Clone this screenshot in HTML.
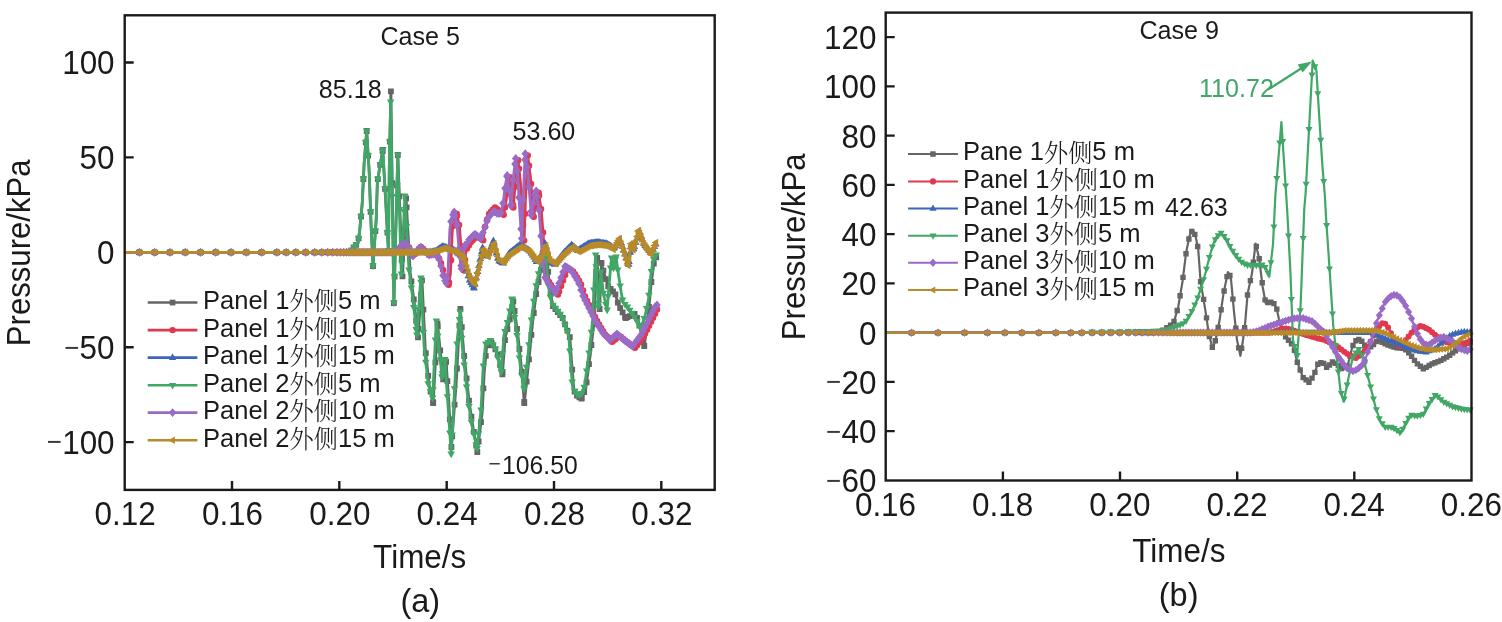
<!DOCTYPE html>
<html lang="zh"><head><meta charset="utf-8"><title>Pressure time histories</title>
<style>html,body{margin:0;padding:0;background:#fff}svg{display:block}</style></head>
<body>
<svg width="1502" height="622" viewBox="0 0 1502 622" font-family='"Liberation Sans","Noto Serif CJK SC",sans-serif' fill="#1a1a1a">
<rect width="1502" height="622" fill="#fff"/>
<defs><clipPath id="cl"><rect x="124.7" y="15.3" width="590" height="474.6"/></clipPath><clipPath id="cr"><rect x="885.7" y="12.6" width="590.3" height="467.9"/></clipPath></defs>
<path d="M232 489.9v-9M339.3 489.9v-9M446.7 489.9v-9M554 489.9v-9M661.3 489.9v-9M124.7 62.5h9M124.7 157.4h9M124.7 252.3h9M124.7 347.2h9M124.7 442.1h9" stroke="#1a1a1a" stroke-width="2.4" fill="none"/>
<path d="M1002.9 480.5v-9M1120 480.5v-9M1237.2 480.5v-9M1354.3 480.5v-9M885.7 37.1h9M885.7 86.4h9M885.7 135.6h9M885.7 184.9h9M885.7 234.1h9M885.7 283.4h9M885.7 332.6h9M885.7 381.9h9M885.7 431.1h9" stroke="#1a1a1a" stroke-width="2.4" fill="none"/>
<g clip-path="url(#cl)">
<path d="M124.7 252.3L350 252.3L353.3 248L358 242.8L359.7 230.4L362.3 202.5L364.1 164L366.7 131L369.2 172L371.1 226L373 266L376.2 219.5L377.4 181.5L380 166L382.8 150L385.4 196L388.4 251L389.4 160L390.9 91.4L393.9 303L397.8 155L402.5 276.4L406.1 198.4L410.2 272.4L414.2 302.4L418 337.4L422 280.4L425.2 347.4L429.2 385.4L433.2 403L437.5 323.4L440.2 350.4L443.2 379.4L446.1 361.9L448.7 400.4L451.4 447L456.2 383.4L458.4 342.4L460.4 309L463.6 350.4L469.2 402.4L473.2 428.4L477.3 452L482.2 412.4L484.2 372.4L486.7 346.4L491.6 342.9L497.2 352.4L502.4 374.4L505.2 337.4L509.2 322.4L513.3 301.4L518.1 336.9L521.7 370.4L524.3 403L529.2 357.4L532.6 322.4L536.2 294L541 269.9L547 254.2L549.2 286.4L553 306.1L562.7 318.1L569.9 337.4L571.7 363.4L573.9 390.4L577.2 395.9L581.5 398.5L585.8 388.4L588.7 366.4L590.4 353.7L594 322.4L595.2 286.4L597.2 258L599.6 309L601.5 263L604.5 275L608 286L611.5 290L615 293L618.5 305L625.7 318L630 316L635.4 313.5L638.5 322L644.3 346L648 318L651 285L654 262L656.8 256" fill="none" stroke="#656565" stroke-width="2.8" stroke-linejoin="round"/>
<path d="M136.5 249.4h5.8v5.8h-5.8zM151.8 249.4h5.8v5.8h-5.8zM167 249.4h5.8v5.8h-5.8zM182.3 249.4h5.8v5.8h-5.8zM197.6 249.4h5.8v5.8h-5.8zM212.8 249.4h5.8v5.8h-5.8zM228.1 249.4h5.8v5.8h-5.8zM243.4 249.4h5.8v5.8h-5.8zM258.7 249.4h5.8v5.8h-5.8zM273.9 249.4h5.8v5.8h-5.8zM283.3 249.4h5.8v5.8h-5.8zM292.9 249.4h5.8v5.8h-5.8zM302.8 249.4h5.8v5.8h-5.8zM311.8 249.4h5.8v5.8h-5.8zM318.8 249.4h5.8v5.8h-5.8zM324.8 249.4h5.8v5.8h-5.8zM329.8 249.4h5.8v5.8h-5.8zM334.1 249.4h5.8v5.8h-5.8zM337.7 249.4h5.8v5.8h-5.8zM340.9 249.4h5.8v5.8h-5.8zM343.7 249.4h5.8v5.8h-5.8zM346.1 249.4h5.8v5.8h-5.8zM348.5 247.6h5.8v5.8h-5.8zM350.9 244.6h5.8v5.8h-5.8zM353.3 241.9h5.8v5.8h-5.8zM355.7 235.5h5.8v5.8h-5.8zM358.1 213.6h5.8v5.8h-5.8zM360.5 176.1h5.8v5.8h-5.8zM362.9 139.5h5.8v5.8h-5.8zM363.8 128.1h5.8v5.8h-5.8zM365.3 152.7h5.8v5.8h-5.8zM367.7 208.9h5.8v5.8h-5.8zM370.1 263.1h5.8v5.8h-5.8zM370.1 263.1h5.8v5.8h-5.8zM372.5 228.2h5.8v5.8h-5.8zM374.9 176.2h5.8v5.8h-5.8zM377.3 162h5.8v5.8h-5.8zM379.7 148.3h5.8v5.8h-5.8zM379.9 147.1h5.8v5.8h-5.8zM382.1 186h5.8v5.8h-5.8zM384.5 229.8h5.8v5.8h-5.8zM385.5 248.1h5.8v5.8h-5.8zM386.9 138.8h5.8v5.8h-5.8zM388 88.5h5.8v5.8h-5.8zM389.3 180.2h5.8v5.8h-5.8zM391 300.1h5.8v5.8h-5.8zM391.7 273.6h5.8v5.8h-5.8zM394.1 182.5h5.8v5.8h-5.8zM394.9 152.1h5.8v5.8h-5.8zM396.5 193.5h5.8v5.8h-5.8zM398.9 255.4h5.8v5.8h-5.8zM399.6 273.5h5.8v5.8h-5.8zM401.3 236.7h5.8v5.8h-5.8zM403.2 195.5h5.8v5.8h-5.8zM403.7 204.5h5.8v5.8h-5.8zM406.1 247.9h5.8v5.8h-5.8zM408.5 278.5h5.8v5.8h-5.8zM410.9 296.5h5.8v5.8h-5.8zM413.3 317.9h5.8v5.8h-5.8zM415.1 334.5h5.8v5.8h-5.8zM415.7 326h5.8v5.8h-5.8zM418.1 291.8h5.8v5.8h-5.8zM419.1 277.5h5.8v5.8h-5.8zM420.5 306.8h5.8v5.8h-5.8zM422.9 350.2h5.8v5.8h-5.8zM425.3 373h5.8v5.8h-5.8zM427.7 388.7h5.8v5.8h-5.8zM430.1 399.2h5.8v5.8h-5.8zM430.3 400.1h5.8v5.8h-5.8zM432.5 359.4h5.8v5.8h-5.8zM434.6 320.5h5.8v5.8h-5.8zM434.9 323.5h5.8v5.8h-5.8zM437.3 347.5h5.8v5.8h-5.8zM439.7 370.7h5.8v5.8h-5.8zM440.3 376.5h5.8v5.8h-5.8zM442.1 365.7h5.8v5.8h-5.8zM443.2 359h5.8v5.8h-5.8zM444.5 378.3h5.8v5.8h-5.8zM446.9 416.5h5.8v5.8h-5.8zM448.5 444.1h5.8v5.8h-5.8zM449.3 433.5h5.8v5.8h-5.8zM451.7 401.7h5.8v5.8h-5.8zM454.1 365.6h5.8v5.8h-5.8zM456.5 322.8h5.8v5.8h-5.8zM457.5 306.1h5.8v5.8h-5.8zM458.9 324.2h5.8v5.8h-5.8zM461.3 353.1h5.8v5.8h-5.8zM463.7 375.4h5.8v5.8h-5.8zM466.1 397.7h5.8v5.8h-5.8zM468.5 413.8h5.8v5.8h-5.8zM470.9 429h5.8v5.8h-5.8zM473.3 442.8h5.8v5.8h-5.8zM474.4 449.1h5.8v5.8h-5.8zM475.7 438.6h5.8v5.8h-5.8zM478.1 419.2h5.8v5.8h-5.8zM480.5 385.5h5.8v5.8h-5.8zM482.9 352.9h5.8v5.8h-5.8zM485.3 342.5h5.8v5.8h-5.8zM487.7 340.7h5.8v5.8h-5.8zM488.7 340h5.8v5.8h-5.8zM490.1 342.4h5.8v5.8h-5.8zM492.5 346.5h5.8v5.8h-5.8zM494.9 352.1h5.8v5.8h-5.8zM497.3 362.2h5.8v5.8h-5.8zM499.5 371.5h5.8v5.8h-5.8zM499.7 368.9h5.8v5.8h-5.8zM502.1 337.2h5.8v5.8h-5.8zM504.5 326.3h5.8v5.8h-5.8zM506.9 316.5h5.8v5.8h-5.8zM509.3 304.2h5.8v5.8h-5.8zM510.4 298.5h5.8v5.8h-5.8zM511.7 308.1h5.8v5.8h-5.8zM514.1 325.9h5.8v5.8h-5.8zM516.5 346.1h5.8v5.8h-5.8zM518.9 368.8h5.8v5.8h-5.8zM521.3 398.9h5.8v5.8h-5.8zM521.4 400.1h5.8v5.8h-5.8zM523.7 378.7h5.8v5.8h-5.8zM526.1 356.4h5.8v5.8h-5.8zM528.5 331.9h5.8v5.8h-5.8zM530.9 310.1h5.8v5.8h-5.8zM533.3 291.1h5.8v5.8h-5.8zM535.7 279.1h5.8v5.8h-5.8zM538.1 267h5.8v5.8h-5.8zM540.5 260.7h5.8v5.8h-5.8zM542.9 254.5h5.8v5.8h-5.8zM544.1 251.3h5.8v5.8h-5.8zM545.3 268.9h5.8v5.8h-5.8zM547.7 290.8h5.8v5.8h-5.8zM550.1 303.2h5.8v5.8h-5.8zM552.5 306.2h5.8v5.8h-5.8zM554.9 309.2h5.8v5.8h-5.8zM557.3 312.1h5.8v5.8h-5.8zM559.7 315.1h5.8v5.8h-5.8zM562.1 321.4h5.8v5.8h-5.8zM564.5 327.8h5.8v5.8h-5.8zM566.9 334.3h5.8v5.8h-5.8zM569.3 366.7h5.8v5.8h-5.8zM571.7 388.7h5.8v5.8h-5.8zM574.1 392.7h5.8v5.8h-5.8zM576.5 394.4h5.8v5.8h-5.8zM578.6 395.6h5.8v5.8h-5.8zM578.9 394.9h5.8v5.8h-5.8zM581.3 389.3h5.8v5.8h-5.8zM583.7 379.5h5.8v5.8h-5.8zM586.1 361.3h5.8v5.8h-5.8zM588.5 342.1h5.8v5.8h-5.8zM590.9 321.3h5.8v5.8h-5.8zM593.3 269.3h5.8v5.8h-5.8zM594.3 255.1h5.8v5.8h-5.8zM595.7 284.9h5.8v5.8h-5.8zM596.7 306.1h5.8v5.8h-5.8zM598.1 272.2h5.8v5.8h-5.8zM598.6 260.1h5.8v5.8h-5.8zM600.5 267.7h5.8v5.8h-5.8zM602.9 276.2h5.8v5.8h-5.8zM605.3 283.4h5.8v5.8h-5.8zM607.7 286.1h5.8v5.8h-5.8zM610.1 288.4h5.8v5.8h-5.8zM612.5 291.5h5.8v5.8h-5.8zM614.9 299.7h5.8v5.8h-5.8zM617.3 305.2h5.8v5.8h-5.8zM619.7 309.5h5.8v5.8h-5.8zM622.1 313.9h5.8v5.8h-5.8zM622.8 315.1h5.8v5.8h-5.8zM624.5 314.3h5.8v5.8h-5.8zM626.9 313.2h5.8v5.8h-5.8zM629.3 312.1h5.8v5.8h-5.8zM631.7 311h5.8v5.8h-5.8zM634.1 315h5.8v5.8h-5.8zM636.5 322.8h5.8v5.8h-5.8zM638.9 332.8h5.8v5.8h-5.8zM641.3 342.7h5.8v5.8h-5.8zM641.4 343.1h5.8v5.8h-5.8zM643.7 325.7h5.8v5.8h-5.8zM646.1 304.1h5.8v5.8h-5.8zM648.5 279.1h5.8v5.8h-5.8zM650.9 260.7h5.8v5.8h-5.8zM653.3 254.4h5.8v5.8h-5.8z" fill="#656565"/>
<path d="M124.7 252.3L394.3 252.3L397.2 251L400.3 247L404.8 242.5L409.3 248L413.3 256L416.8 252L420.5 246.5L424.3 250L428.8 255L433.3 254L436.3 254L440 260L445.7 278.8L448.6 284.8L450.4 273.8L452.3 230.8L453.9 219.8L456.6 213.8L459.4 226.8L461.9 256.8L463.8 270.3L466.2 249.8L471.1 241.8L477.1 235.8L483.1 240.3L485.2 225.3L488.8 214.3L494.8 207.3L498.8 210.3L503.6 214.8L506 201.8L507.8 186.8L509.6 177.2L511.4 191.8L513.3 207.4L515.4 181.8L518.1 160.3L520.4 181.8L522.4 216.8L524.1 240.4L525.4 201.8L527.7 155.5L530.4 176.8L533.7 216.8L535.9 201.8L538.6 192.8L541.4 211.8L543.4 237.8L544.6 256.8L547 278.8L551.8 286.2L557.9 294.6L562.7 281.4L567.5 268.1L573.5 271.8L580.8 283.8L585.6 298.3L591.6 310.3L597.7 322.4L604.9 334.4L612.1 341.8L619.4 335.8L626.6 341.8L635 347.8L643.4 336.8L650.7 322.4L658.4 306.8" fill="none" stroke="#e0384d" stroke-width="2.8" stroke-linejoin="round"/>
<path d="M136.1 252.3a3.2 3.2 0 1 0 6.5 0a3.2 3.2 0 1 0 -6.5 0zM151.4 252.3a3.2 3.2 0 1 0 6.5 0a3.2 3.2 0 1 0 -6.5 0zM166.7 252.3a3.2 3.2 0 1 0 6.5 0a3.2 3.2 0 1 0 -6.5 0zM181.9 252.3a3.2 3.2 0 1 0 6.5 0a3.2 3.2 0 1 0 -6.5 0zM197.2 252.3a3.2 3.2 0 1 0 6.5 0a3.2 3.2 0 1 0 -6.5 0zM212.5 252.3a3.2 3.2 0 1 0 6.5 0a3.2 3.2 0 1 0 -6.5 0zM227.8 252.3a3.2 3.2 0 1 0 6.5 0a3.2 3.2 0 1 0 -6.5 0zM243 252.3a3.2 3.2 0 1 0 6.5 0a3.2 3.2 0 1 0 -6.5 0zM258.3 252.3a3.2 3.2 0 1 0 6.5 0a3.2 3.2 0 1 0 -6.5 0zM273.6 252.3a3.2 3.2 0 1 0 6.5 0a3.2 3.2 0 1 0 -6.5 0zM283 252.3a3.2 3.2 0 1 0 6.5 0a3.2 3.2 0 1 0 -6.5 0zM292.6 252.3a3.2 3.2 0 1 0 6.5 0a3.2 3.2 0 1 0 -6.5 0zM302.5 252.3a3.2 3.2 0 1 0 6.5 0a3.2 3.2 0 1 0 -6.5 0zM311.5 252.3a3.2 3.2 0 1 0 6.5 0a3.2 3.2 0 1 0 -6.5 0zM318.5 252.3a3.2 3.2 0 1 0 6.5 0a3.2 3.2 0 1 0 -6.5 0zM324.5 252.3a3.2 3.2 0 1 0 6.5 0a3.2 3.2 0 1 0 -6.5 0zM329.5 252.3a3.2 3.2 0 1 0 6.5 0a3.2 3.2 0 1 0 -6.5 0zM333.8 252.3a3.2 3.2 0 1 0 6.5 0a3.2 3.2 0 1 0 -6.5 0zM337.4 252.3a3.2 3.2 0 1 0 6.5 0a3.2 3.2 0 1 0 -6.5 0zM340.6 252.3a3.2 3.2 0 1 0 6.5 0a3.2 3.2 0 1 0 -6.5 0zM343.4 252.3a3.2 3.2 0 1 0 6.5 0a3.2 3.2 0 1 0 -6.5 0zM345.8 252.3a3.2 3.2 0 1 0 6.5 0a3.2 3.2 0 1 0 -6.5 0zM347.8 252.3a3.2 3.2 0 1 0 6.5 0a3.2 3.2 0 1 0 -6.5 0zM349.8 252.3a3.2 3.2 0 1 0 6.5 0a3.2 3.2 0 1 0 -6.5 0zM351.8 252.3a3.2 3.2 0 1 0 6.5 0a3.2 3.2 0 1 0 -6.5 0zM353.8 252.3a3.2 3.2 0 1 0 6.5 0a3.2 3.2 0 1 0 -6.5 0zM355.8 252.3a3.2 3.2 0 1 0 6.5 0a3.2 3.2 0 1 0 -6.5 0zM357.8 252.3a3.2 3.2 0 1 0 6.5 0a3.2 3.2 0 1 0 -6.5 0zM359.8 252.3a3.2 3.2 0 1 0 6.5 0a3.2 3.2 0 1 0 -6.5 0zM361.8 252.3a3.2 3.2 0 1 0 6.5 0a3.2 3.2 0 1 0 -6.5 0zM363.8 252.3a3.2 3.2 0 1 0 6.5 0a3.2 3.2 0 1 0 -6.5 0zM365.8 252.3a3.2 3.2 0 1 0 6.5 0a3.2 3.2 0 1 0 -6.5 0zM367.8 252.3a3.2 3.2 0 1 0 6.5 0a3.2 3.2 0 1 0 -6.5 0zM369.8 252.3a3.2 3.2 0 1 0 6.5 0a3.2 3.2 0 1 0 -6.5 0zM371.8 252.3a3.2 3.2 0 1 0 6.5 0a3.2 3.2 0 1 0 -6.5 0zM373.8 252.3a3.2 3.2 0 1 0 6.5 0a3.2 3.2 0 1 0 -6.5 0zM375.8 252.3a3.2 3.2 0 1 0 6.5 0a3.2 3.2 0 1 0 -6.5 0zM377.8 252.3a3.2 3.2 0 1 0 6.5 0a3.2 3.2 0 1 0 -6.5 0zM379.8 252.3a3.2 3.2 0 1 0 6.5 0a3.2 3.2 0 1 0 -6.5 0zM381.8 252.3a3.2 3.2 0 1 0 6.5 0a3.2 3.2 0 1 0 -6.5 0zM383.8 252.3a3.2 3.2 0 1 0 6.5 0a3.2 3.2 0 1 0 -6.5 0zM385.8 252.3a3.2 3.2 0 1 0 6.5 0a3.2 3.2 0 1 0 -6.5 0zM387.8 252.3a3.2 3.2 0 1 0 6.5 0a3.2 3.2 0 1 0 -6.5 0zM389.8 252.3a3.2 3.2 0 1 0 6.5 0a3.2 3.2 0 1 0 -6.5 0zM391.8 252a3.2 3.2 0 1 0 6.5 0a3.2 3.2 0 1 0 -6.5 0zM393.8 251.1a3.2 3.2 0 1 0 6.5 0a3.2 3.2 0 1 0 -6.5 0zM395.8 248.7a3.2 3.2 0 1 0 6.5 0a3.2 3.2 0 1 0 -6.5 0zM397.8 246.3a3.2 3.2 0 1 0 6.5 0a3.2 3.2 0 1 0 -6.5 0zM399.8 244.3a3.2 3.2 0 1 0 6.5 0a3.2 3.2 0 1 0 -6.5 0zM401.8 242.7a3.2 3.2 0 1 0 6.5 0a3.2 3.2 0 1 0 -6.5 0zM403.8 245.2a3.2 3.2 0 1 0 6.5 0a3.2 3.2 0 1 0 -6.5 0zM405.8 247.6a3.2 3.2 0 1 0 6.5 0a3.2 3.2 0 1 0 -6.5 0zM407.8 251.4a3.2 3.2 0 1 0 6.5 0a3.2 3.2 0 1 0 -6.5 0zM409.8 255.4a3.2 3.2 0 1 0 6.5 0a3.2 3.2 0 1 0 -6.5 0zM411.8 254.1a3.2 3.2 0 1 0 6.5 0a3.2 3.2 0 1 0 -6.5 0zM413.8 251.7a3.2 3.2 0 1 0 6.5 0a3.2 3.2 0 1 0 -6.5 0zM415.8 248.7a3.2 3.2 0 1 0 6.5 0a3.2 3.2 0 1 0 -6.5 0zM417.8 247a3.2 3.2 0 1 0 6.5 0a3.2 3.2 0 1 0 -6.5 0zM419.8 248.8a3.2 3.2 0 1 0 6.5 0a3.2 3.2 0 1 0 -6.5 0zM421.8 250.8a3.2 3.2 0 1 0 6.5 0a3.2 3.2 0 1 0 -6.5 0zM423.8 253a3.2 3.2 0 1 0 6.5 0a3.2 3.2 0 1 0 -6.5 0zM425.8 255a3.2 3.2 0 1 0 6.5 0a3.2 3.2 0 1 0 -6.5 0zM427.8 254.5a3.2 3.2 0 1 0 6.5 0a3.2 3.2 0 1 0 -6.5 0zM429.8 254.1a3.2 3.2 0 1 0 6.5 0a3.2 3.2 0 1 0 -6.5 0zM431.8 254a3.2 3.2 0 1 0 6.5 0a3.2 3.2 0 1 0 -6.5 0zM433.8 255.1a3.2 3.2 0 1 0 6.5 0a3.2 3.2 0 1 0 -6.5 0zM435.8 258.4a3.2 3.2 0 1 0 6.5 0a3.2 3.2 0 1 0 -6.5 0zM437.8 263.3a3.2 3.2 0 1 0 6.5 0a3.2 3.2 0 1 0 -6.5 0zM439.8 269.9a3.2 3.2 0 1 0 6.5 0a3.2 3.2 0 1 0 -6.5 0zM441.8 276.5a3.2 3.2 0 1 0 6.5 0a3.2 3.2 0 1 0 -6.5 0zM443.8 281.5a3.2 3.2 0 1 0 6.5 0a3.2 3.2 0 1 0 -6.5 0zM445.4 284.8a3.2 3.2 0 1 0 6.5 0a3.2 3.2 0 1 0 -6.5 0zM445.8 282.4a3.2 3.2 0 1 0 6.5 0a3.2 3.2 0 1 0 -6.5 0zM447.8 260.2a3.2 3.2 0 1 0 6.5 0a3.2 3.2 0 1 0 -6.5 0zM449.8 226a3.2 3.2 0 1 0 6.5 0a3.2 3.2 0 1 0 -6.5 0zM451.8 217.4a3.2 3.2 0 1 0 6.5 0a3.2 3.2 0 1 0 -6.5 0zM453.4 213.8a3.2 3.2 0 1 0 6.5 0a3.2 3.2 0 1 0 -6.5 0zM453.8 215.7a3.2 3.2 0 1 0 6.5 0a3.2 3.2 0 1 0 -6.5 0zM455.8 224.9a3.2 3.2 0 1 0 6.5 0a3.2 3.2 0 1 0 -6.5 0zM457.8 246a3.2 3.2 0 1 0 6.5 0a3.2 3.2 0 1 0 -6.5 0zM459.8 264.6a3.2 3.2 0 1 0 6.5 0a3.2 3.2 0 1 0 -6.5 0zM460.6 270.3a3.2 3.2 0 1 0 6.5 0a3.2 3.2 0 1 0 -6.5 0zM461.8 260a3.2 3.2 0 1 0 6.5 0a3.2 3.2 0 1 0 -6.5 0zM463.8 248.5a3.2 3.2 0 1 0 6.5 0a3.2 3.2 0 1 0 -6.5 0zM465.8 245.2a3.2 3.2 0 1 0 6.5 0a3.2 3.2 0 1 0 -6.5 0zM467.8 242a3.2 3.2 0 1 0 6.5 0a3.2 3.2 0 1 0 -6.5 0zM469.8 239.9a3.2 3.2 0 1 0 6.5 0a3.2 3.2 0 1 0 -6.5 0zM471.8 237.9a3.2 3.2 0 1 0 6.5 0a3.2 3.2 0 1 0 -6.5 0zM473.8 235.9a3.2 3.2 0 1 0 6.5 0a3.2 3.2 0 1 0 -6.5 0zM475.8 237.2a3.2 3.2 0 1 0 6.5 0a3.2 3.2 0 1 0 -6.5 0zM477.8 238.7a3.2 3.2 0 1 0 6.5 0a3.2 3.2 0 1 0 -6.5 0zM479.8 240.2a3.2 3.2 0 1 0 6.5 0a3.2 3.2 0 1 0 -6.5 0zM479.9 240.3a3.2 3.2 0 1 0 6.5 0a3.2 3.2 0 1 0 -6.5 0zM481.8 226.7a3.2 3.2 0 1 0 6.5 0a3.2 3.2 0 1 0 -6.5 0zM483.8 219.8a3.2 3.2 0 1 0 6.5 0a3.2 3.2 0 1 0 -6.5 0zM485.8 214.1a3.2 3.2 0 1 0 6.5 0a3.2 3.2 0 1 0 -6.5 0zM487.8 211.7a3.2 3.2 0 1 0 6.5 0a3.2 3.2 0 1 0 -6.5 0zM489.8 209.4a3.2 3.2 0 1 0 6.5 0a3.2 3.2 0 1 0 -6.5 0zM491.8 207.5a3.2 3.2 0 1 0 6.5 0a3.2 3.2 0 1 0 -6.5 0zM493.8 209a3.2 3.2 0 1 0 6.5 0a3.2 3.2 0 1 0 -6.5 0zM495.8 210.5a3.2 3.2 0 1 0 6.5 0a3.2 3.2 0 1 0 -6.5 0zM497.8 212.4a3.2 3.2 0 1 0 6.5 0a3.2 3.2 0 1 0 -6.5 0zM499.8 214.2a3.2 3.2 0 1 0 6.5 0a3.2 3.2 0 1 0 -6.5 0zM500.4 214.8a3.2 3.2 0 1 0 6.5 0a3.2 3.2 0 1 0 -6.5 0zM501.8 207.2a3.2 3.2 0 1 0 6.5 0a3.2 3.2 0 1 0 -6.5 0zM503.8 193.5a3.2 3.2 0 1 0 6.5 0a3.2 3.2 0 1 0 -6.5 0zM505.8 180.4a3.2 3.2 0 1 0 6.5 0a3.2 3.2 0 1 0 -6.5 0zM506.4 177.2a3.2 3.2 0 1 0 6.5 0a3.2 3.2 0 1 0 -6.5 0zM507.8 188.6a3.2 3.2 0 1 0 6.5 0a3.2 3.2 0 1 0 -6.5 0zM509.8 204.9a3.2 3.2 0 1 0 6.5 0a3.2 3.2 0 1 0 -6.5 0zM510.1 207.4a3.2 3.2 0 1 0 6.5 0a3.2 3.2 0 1 0 -6.5 0zM511.8 186.7a3.2 3.2 0 1 0 6.5 0a3.2 3.2 0 1 0 -6.5 0zM513.8 169.1a3.2 3.2 0 1 0 6.5 0a3.2 3.2 0 1 0 -6.5 0zM514.9 160.3a3.2 3.2 0 1 0 6.5 0a3.2 3.2 0 1 0 -6.5 0zM515.8 168.7a3.2 3.2 0 1 0 6.5 0a3.2 3.2 0 1 0 -6.5 0zM517.8 192.3a3.2 3.2 0 1 0 6.5 0a3.2 3.2 0 1 0 -6.5 0zM519.8 225.1a3.2 3.2 0 1 0 6.5 0a3.2 3.2 0 1 0 -6.5 0zM520.9 240.4a3.2 3.2 0 1 0 6.5 0a3.2 3.2 0 1 0 -6.5 0zM521.8 213.7a3.2 3.2 0 1 0 6.5 0a3.2 3.2 0 1 0 -6.5 0zM523.8 169.6a3.2 3.2 0 1 0 6.5 0a3.2 3.2 0 1 0 -6.5 0zM524.5 155.5a3.2 3.2 0 1 0 6.5 0a3.2 3.2 0 1 0 -6.5 0zM525.8 165.8a3.2 3.2 0 1 0 6.5 0a3.2 3.2 0 1 0 -6.5 0zM527.8 184.1a3.2 3.2 0 1 0 6.5 0a3.2 3.2 0 1 0 -6.5 0zM529.8 208.3a3.2 3.2 0 1 0 6.5 0a3.2 3.2 0 1 0 -6.5 0zM530.5 216.8a3.2 3.2 0 1 0 6.5 0a3.2 3.2 0 1 0 -6.5 0zM531.8 207.9a3.2 3.2 0 1 0 6.5 0a3.2 3.2 0 1 0 -6.5 0zM533.8 198.1a3.2 3.2 0 1 0 6.5 0a3.2 3.2 0 1 0 -6.5 0zM535.4 192.8a3.2 3.2 0 1 0 6.5 0a3.2 3.2 0 1 0 -6.5 0zM535.8 195.5a3.2 3.2 0 1 0 6.5 0a3.2 3.2 0 1 0 -6.5 0zM537.8 209.1a3.2 3.2 0 1 0 6.5 0a3.2 3.2 0 1 0 -6.5 0zM539.8 232.6a3.2 3.2 0 1 0 6.5 0a3.2 3.2 0 1 0 -6.5 0zM541.8 260.5a3.2 3.2 0 1 0 6.5 0a3.2 3.2 0 1 0 -6.5 0zM543.8 278.8a3.2 3.2 0 1 0 6.5 0a3.2 3.2 0 1 0 -6.5 0zM545.8 281.9a3.2 3.2 0 1 0 6.5 0a3.2 3.2 0 1 0 -6.5 0zM547.8 285a3.2 3.2 0 1 0 6.5 0a3.2 3.2 0 1 0 -6.5 0zM549.8 287.9a3.2 3.2 0 1 0 6.5 0a3.2 3.2 0 1 0 -6.5 0zM551.8 290.6a3.2 3.2 0 1 0 6.5 0a3.2 3.2 0 1 0 -6.5 0zM553.8 293.4a3.2 3.2 0 1 0 6.5 0a3.2 3.2 0 1 0 -6.5 0zM554.7 294.6a3.2 3.2 0 1 0 6.5 0a3.2 3.2 0 1 0 -6.5 0zM555.8 291.6a3.2 3.2 0 1 0 6.5 0a3.2 3.2 0 1 0 -6.5 0zM557.8 286.1a3.2 3.2 0 1 0 6.5 0a3.2 3.2 0 1 0 -6.5 0zM559.8 280.6a3.2 3.2 0 1 0 6.5 0a3.2 3.2 0 1 0 -6.5 0zM561.8 275a3.2 3.2 0 1 0 6.5 0a3.2 3.2 0 1 0 -6.5 0zM563.8 269.5a3.2 3.2 0 1 0 6.5 0a3.2 3.2 0 1 0 -6.5 0zM564.3 268.1a3.2 3.2 0 1 0 6.5 0a3.2 3.2 0 1 0 -6.5 0zM565.8 269a3.2 3.2 0 1 0 6.5 0a3.2 3.2 0 1 0 -6.5 0zM567.8 270.3a3.2 3.2 0 1 0 6.5 0a3.2 3.2 0 1 0 -6.5 0zM569.8 271.5a3.2 3.2 0 1 0 6.5 0a3.2 3.2 0 1 0 -6.5 0zM571.8 274.3a3.2 3.2 0 1 0 6.5 0a3.2 3.2 0 1 0 -6.5 0zM573.8 277.6a3.2 3.2 0 1 0 6.5 0a3.2 3.2 0 1 0 -6.5 0zM575.8 280.8a3.2 3.2 0 1 0 6.5 0a3.2 3.2 0 1 0 -6.5 0zM577.8 284.4a3.2 3.2 0 1 0 6.5 0a3.2 3.2 0 1 0 -6.5 0zM579.8 290.4a3.2 3.2 0 1 0 6.5 0a3.2 3.2 0 1 0 -6.5 0zM581.8 296.5a3.2 3.2 0 1 0 6.5 0a3.2 3.2 0 1 0 -6.5 0zM583.8 301.1a3.2 3.2 0 1 0 6.5 0a3.2 3.2 0 1 0 -6.5 0zM585.8 305.1a3.2 3.2 0 1 0 6.5 0a3.2 3.2 0 1 0 -6.5 0zM587.8 309.1a3.2 3.2 0 1 0 6.5 0a3.2 3.2 0 1 0 -6.5 0zM589.8 313.1a3.2 3.2 0 1 0 6.5 0a3.2 3.2 0 1 0 -6.5 0zM591.8 317a3.2 3.2 0 1 0 6.5 0a3.2 3.2 0 1 0 -6.5 0zM593.8 321a3.2 3.2 0 1 0 6.5 0a3.2 3.2 0 1 0 -6.5 0zM595.8 324.6a3.2 3.2 0 1 0 6.5 0a3.2 3.2 0 1 0 -6.5 0zM597.8 327.9a3.2 3.2 0 1 0 6.5 0a3.2 3.2 0 1 0 -6.5 0zM599.8 331.2a3.2 3.2 0 1 0 6.5 0a3.2 3.2 0 1 0 -6.5 0zM601.8 334.5a3.2 3.2 0 1 0 6.5 0a3.2 3.2 0 1 0 -6.5 0zM603.8 336.6a3.2 3.2 0 1 0 6.5 0a3.2 3.2 0 1 0 -6.5 0zM605.8 338.6a3.2 3.2 0 1 0 6.5 0a3.2 3.2 0 1 0 -6.5 0zM607.8 340.7a3.2 3.2 0 1 0 6.5 0a3.2 3.2 0 1 0 -6.5 0zM608.9 341.8a3.2 3.2 0 1 0 6.5 0a3.2 3.2 0 1 0 -6.5 0zM609.8 341.1a3.2 3.2 0 1 0 6.5 0a3.2 3.2 0 1 0 -6.5 0zM611.8 339.4a3.2 3.2 0 1 0 6.5 0a3.2 3.2 0 1 0 -6.5 0zM613.8 337.8a3.2 3.2 0 1 0 6.5 0a3.2 3.2 0 1 0 -6.5 0zM615.8 336.1a3.2 3.2 0 1 0 6.5 0a3.2 3.2 0 1 0 -6.5 0zM617.8 337.1a3.2 3.2 0 1 0 6.5 0a3.2 3.2 0 1 0 -6.5 0zM619.8 338.8a3.2 3.2 0 1 0 6.5 0a3.2 3.2 0 1 0 -6.5 0zM621.8 340.5a3.2 3.2 0 1 0 6.5 0a3.2 3.2 0 1 0 -6.5 0zM623.8 342.1a3.2 3.2 0 1 0 6.5 0a3.2 3.2 0 1 0 -6.5 0zM625.8 343.5a3.2 3.2 0 1 0 6.5 0a3.2 3.2 0 1 0 -6.5 0zM627.8 344.9a3.2 3.2 0 1 0 6.5 0a3.2 3.2 0 1 0 -6.5 0zM629.8 346.4a3.2 3.2 0 1 0 6.5 0a3.2 3.2 0 1 0 -6.5 0zM631.8 347.8a3.2 3.2 0 1 0 6.5 0a3.2 3.2 0 1 0 -6.5 0zM631.8 347.8a3.2 3.2 0 1 0 6.5 0a3.2 3.2 0 1 0 -6.5 0zM633.8 345.2a3.2 3.2 0 1 0 6.5 0a3.2 3.2 0 1 0 -6.5 0zM635.8 342.6a3.2 3.2 0 1 0 6.5 0a3.2 3.2 0 1 0 -6.5 0zM637.8 339.9a3.2 3.2 0 1 0 6.5 0a3.2 3.2 0 1 0 -6.5 0zM639.8 337.3a3.2 3.2 0 1 0 6.5 0a3.2 3.2 0 1 0 -6.5 0zM641.8 333.6a3.2 3.2 0 1 0 6.5 0a3.2 3.2 0 1 0 -6.5 0zM643.8 329.7a3.2 3.2 0 1 0 6.5 0a3.2 3.2 0 1 0 -6.5 0zM645.8 325.8a3.2 3.2 0 1 0 6.5 0a3.2 3.2 0 1 0 -6.5 0zM647.8 321.8a3.2 3.2 0 1 0 6.5 0a3.2 3.2 0 1 0 -6.5 0zM649.8 317.7a3.2 3.2 0 1 0 6.5 0a3.2 3.2 0 1 0 -6.5 0zM651.8 313.7a3.2 3.2 0 1 0 6.5 0a3.2 3.2 0 1 0 -6.5 0zM653.8 309.6a3.2 3.2 0 1 0 6.5 0a3.2 3.2 0 1 0 -6.5 0z" fill="#e0384d"/>
<path d="M124.7 252.3L430 252.3L436 251L442.7 246.4L454.8 250.5L463.2 257.5L469.3 279.7L474.1 288L478.9 265.8L482.5 247.8L487.4 256.2L493.4 240.9L498.2 260.3L503 263.1L509 253.4L519.9 245L529.5 250.5L536.8 261.7L541.6 254.8L545.2 243.6L550 261.7L554.9 264.4L563.3 253.4L571.7 245L577.8 250.5L588.6 243.6L597.1 242.2L606.7 243.6L613.8 248.2L619.9 239.4L628.7 264.3L631.5 244.6L633.7 248.8L639.3 231.3L644 244.2L651.2 253.1L656.5 243" fill="none" stroke="#3b66ba" stroke-width="2.8" stroke-linejoin="round"/>
<path d="M139.4 248L143.1 254.7L135.6 254.7zM154.6 248L158.4 254.7L150.9 254.7zM169.9 248L173.7 254.7L166.2 254.7zM185.2 248L188.9 254.7L181.4 254.7zM200.4 248L204.2 254.7L196.7 254.7zM215.7 248L219.5 254.7L212 254.7zM231 248L234.7 254.7L227.2 254.7zM246.3 248L250 254.7L242.5 254.7zM261.5 248L265.3 254.7L257.8 254.7zM276.8 248L280.5 254.7L273 254.7zM286.2 248L289.9 254.7L282.4 254.7zM295.8 248L299.6 254.7L292.1 254.7zM305.7 248L309.4 254.7L301.9 254.7zM314.7 248L318.4 254.7L310.9 254.7zM321.7 248L325.4 254.7L317.9 254.7zM327.7 248L331.4 254.7L323.9 254.7zM332.7 248L336.4 254.7L328.9 254.7zM337 248L340.8 254.7L333.2 254.7zM340.6 248L344.4 254.7L336.9 254.7zM343.8 248L347.6 254.7L340.1 254.7zM346.6 248L350.4 254.7L342.9 254.7zM349 248L352.8 254.7L345.2 254.7zM350.3 248L354.1 254.7L346.6 254.7zM351.7 248L355.4 254.7L347.9 254.7zM353 248L356.8 254.7L349.3 254.7zM354.4 248L358.1 254.7L350.6 254.7zM355.7 248L359.4 254.7L351.9 254.7zM357 248L360.8 254.7L353.3 254.7zM358.4 248L362.1 254.7L354.6 254.7zM359.7 248L363.5 254.7L356 254.7zM361.1 248L364.8 254.7L357.3 254.7zM362.4 248L366.1 254.7L358.6 254.7zM363.7 248L367.5 254.7L360 254.7zM365.1 248L368.8 254.7L361.3 254.7zM366.4 248L370.2 254.7L362.7 254.7zM367.8 248L371.5 254.7L364 254.7zM369.1 248L372.8 254.7L365.3 254.7zM370.4 248L374.2 254.7L366.7 254.7zM371.8 248L375.5 254.7L368 254.7zM373.1 248L376.9 254.7L369.4 254.7zM374.5 248L378.2 254.7L370.7 254.7zM375.8 248L379.5 254.7L372 254.7zM377.1 248L380.9 254.7L373.4 254.7zM378.5 248L382.2 254.7L374.7 254.7zM379.8 248L383.6 254.7L376.1 254.7zM381.2 248L384.9 254.7L377.4 254.7zM382.5 248L386.2 254.7L378.7 254.7zM383.8 248L387.6 254.7L380.1 254.7zM385.2 248L388.9 254.7L381.4 254.7zM386.5 248L390.3 254.7L382.8 254.7zM387.9 248L391.6 254.7L384.1 254.7zM389.2 248L392.9 254.7L385.4 254.7zM390.5 248L394.3 254.7L386.8 254.7zM391.9 248L395.6 254.7L388.1 254.7zM393.2 248L397 254.7L389.5 254.7zM394.6 248L398.3 254.7L390.8 254.7zM395.9 248L399.6 254.7L392.1 254.7zM397.2 248L401 254.7L393.5 254.7zM398.6 248L402.3 254.7L394.8 254.7zM399.9 248L403.7 254.7L396.2 254.7zM401.3 248L405 254.7L397.5 254.7zM402.6 248L406.3 254.7L398.8 254.7zM403.9 248L407.7 254.7L400.2 254.7zM405.3 248L409 254.7L401.5 254.7zM406.6 248L410.4 254.7L402.9 254.7zM408 248L411.7 254.7L404.2 254.7zM409.3 248L413 254.7L405.5 254.7zM410.6 248L414.4 254.7L406.9 254.7zM412 248L415.7 254.7L408.2 254.7zM413.3 248L417.1 254.7L409.6 254.7zM414.7 248L418.4 254.7L410.9 254.7zM416 248L419.7 254.7L412.2 254.7zM417.3 248L421.1 254.7L413.6 254.7zM418.7 248L422.4 254.7L414.9 254.7zM420 248L423.8 254.7L416.3 254.7zM421.4 248L425.1 254.7L417.6 254.7zM422.7 248L426.4 254.7L418.9 254.7zM424 248L427.8 254.7L420.3 254.7zM425.4 248L429.1 254.7L421.6 254.7zM426.7 248L430.5 254.7L423 254.7zM428.1 248L431.8 254.7L424.3 254.7zM429.4 248L433.1 254.7L425.6 254.7zM430.7 247.8L434.5 254.5L427 254.5zM432.1 247.5L435.8 254.2L428.3 254.2zM433.4 247.2L437.2 253.9L429.7 253.9zM434.8 247L438.5 253.6L431 253.6zM436.1 246.6L439.8 253.3L432.3 253.3zM437.4 245.7L441.2 252.4L433.7 252.4zM438.8 244.8L442.5 251.4L435 251.4zM440.1 243.8L443.9 250.5L436.4 250.5zM441.5 242.9L445.2 249.6L437.7 249.6zM442.8 242.1L446.5 248.8L439 248.8zM444.1 242.6L447.9 249.2L440.4 249.2zM445.5 243L449.2 249.7L441.7 249.7zM446.8 243.5L450.6 250.2L443.1 250.2zM448.2 243.9L451.9 250.6L444.4 250.6zM449.5 244.4L453.2 251.1L445.7 251.1zM450.8 244.9L454.6 251.5L447.1 251.5zM452.2 245.3L455.9 252L448.4 252zM453.5 245.8L457.3 252.5L449.8 252.5zM454.9 246.3L458.6 252.9L451.1 252.9zM456.2 247.4L459.9 254.1L452.4 254.1zM457.5 248.5L461.3 255.2L453.8 255.2zM458.9 249.6L462.6 256.3L455.1 256.3zM460.2 250.7L464 257.4L456.5 257.4zM461.6 251.9L465.3 258.5L457.8 258.5zM462.9 253L466.6 259.7L459.1 259.7zM464.2 257L468 263.7L460.5 263.7zM465.6 261.9L469.3 268.6L461.8 268.6zM466.9 266.8L470.7 273.4L463.2 273.4zM468.3 271.6L472 278.3L464.5 278.3zM469.6 275.9L473.3 282.6L465.8 282.6zM470.9 278.2L474.7 284.9L467.2 284.9zM472.3 280.6L476 287.2L468.5 287.2zM473.6 282.9L477.4 289.6L469.9 289.6zM474.1 283.7L477.8 290.4L470.3 290.4zM475 279.7L478.7 286.4L471.2 286.4zM476.3 273.5L480 280.2L472.5 280.2zM477.6 267.3L481.4 274L473.9 274zM479 261.1L482.7 267.8L475.2 267.8zM480.3 254.4L484.1 261.1L476.6 261.1zM481.7 247.7L485.4 254.3L477.9 254.3zM482.5 243.4L486.2 250.1L478.8 250.1zM483 244.3L486.7 251L479.2 251zM484.3 246.6L488.1 253.3L480.6 253.3zM485.7 248.9L489.4 255.6L481.9 255.6zM487 251.2L490.8 257.9L483.3 257.9zM487.4 251.8L491.1 258.5L483.6 258.5zM488.4 249.4L492.1 256.1L484.6 256.1zM489.7 246L493.4 252.7L485.9 252.7zM491 242.6L494.8 249.2L487.3 249.2zM492.4 239.2L496.1 245.8L488.6 245.8zM493.4 236.5L497.1 243.2L489.6 243.2zM493.7 237.8L497.5 244.5L490 244.5zM495.1 243.3L498.8 249.9L491.3 249.9zM496.4 248.7L500.1 255.4L492.6 255.4zM497.7 254.1L501.5 260.8L494 260.8zM499.1 256.5L502.8 263.2L495.3 263.2zM500.4 257.3L504.2 263.9L496.7 263.9zM501.8 258L505.5 264.7L498 264.7zM503 258.7L506.8 265.4L499.2 265.4zM503.1 258.6L506.8 265.3L499.3 265.3zM504.4 256.4L508.2 263.1L500.7 263.1zM505.8 254.3L509.5 260.9L502 260.9zM507.1 252.1L510.9 258.8L503.4 258.8zM508.5 250L512.2 256.6L504.7 256.6zM509.8 248.5L513.5 255.1L506 255.1zM511.1 247.4L514.9 254.1L507.4 254.1zM512.5 246.4L516.2 253.1L508.7 253.1zM513.8 245.4L517.6 252.1L510.1 252.1zM515.2 244.3L518.9 251L511.4 251zM516.5 243.3L520.2 250L512.7 250zM517.8 242.3L521.6 249L514.1 249zM519.2 241.2L522.9 247.9L515.4 247.9zM519.9 240.7L523.6 247.4L516.1 247.4zM520.5 241L524.3 247.7L516.8 247.7zM521.9 241.8L525.6 248.5L518.1 248.5zM523.2 242.6L526.9 249.3L519.4 249.3zM524.5 243.4L528.3 250L520.8 250zM525.9 244.1L529.6 250.8L522.1 250.8zM527.2 244.9L531 251.6L523.5 251.6zM528.6 245.7L532.3 252.3L524.8 252.3zM529.9 246.8L533.6 253.5L526.1 253.5zM531.2 248.9L535 255.5L527.5 255.5zM532.6 250.9L536.3 257.6L528.8 257.6zM533.9 253L537.7 259.6L530.2 259.6zM535.3 255L539 261.7L531.5 261.7zM536.6 257.1L540.3 263.7L532.8 263.7zM536.8 257.4L540.5 264L533 264zM537.9 255.7L541.7 262.4L534.2 262.4zM539.3 253.8L543 260.5L535.5 260.5zM540.6 251.9L544.4 258.6L536.9 258.6zM542 249.3L545.7 256L538.2 256zM543.3 245.2L547 251.9L539.5 251.9zM544.6 241L548.4 247.7L540.9 247.7zM545.2 239.3L548.9 246L541.4 246zM546 242.2L549.7 248.9L542.2 248.9zM547.3 247.3L551.1 254L543.6 254zM548.7 252.3L552.4 259L544.9 259zM550 257.4L553.7 264L546.2 264zM551.3 258.1L555.1 264.8L547.6 264.8zM552.7 258.9L556.4 265.6L548.9 265.6zM554 259.6L557.8 266.3L550.3 266.3zM554.9 260.1L558.6 266.8L551.1 266.8zM555.4 259.5L559.1 266.2L551.6 266.2zM556.7 257.8L560.4 264.4L552.9 264.4zM558 256L561.8 262.7L554.3 262.7zM559.4 254.2L563.1 260.9L555.6 260.9zM560.7 252.5L564.5 259.2L557 259.2zM562.1 250.7L565.8 257.4L558.3 257.4zM563.4 249L567.1 255.7L559.6 255.7zM564.7 247.6L568.5 254.3L561 254.3zM566.1 246.3L569.8 253L562.3 253zM567.4 245L571.2 251.6L563.7 251.6zM568.8 243.6L572.5 250.3L565 250.3zM570.1 242.3L573.8 249L566.3 249zM571.4 240.9L575.2 247.6L567.7 247.6zM571.7 240.7L575.4 247.4L567.9 247.4zM572.8 241.7L576.5 248.3L569 248.3zM574.1 242.9L577.9 249.6L570.4 249.6zM575.5 244.1L579.2 250.8L571.7 250.8zM576.8 245.3L580.5 252L573 252zM577.8 246.2L581.5 252.9L574 252.9zM578.1 246L581.9 252.7L574.4 252.7zM579.5 245.1L583.2 251.8L575.7 251.8zM580.8 244.3L584.6 251L577.1 251zM582.2 243.4L585.9 250.1L578.4 250.1zM583.5 242.6L587.2 249.2L579.7 249.2zM584.8 241.7L588.6 248.4L581.1 248.4zM586.2 240.9L589.9 247.5L582.4 247.5zM587.5 240L591.3 246.7L583.8 246.7zM588.9 239.3L592.6 245.9L585.1 245.9zM590.2 239.1L593.9 245.7L586.4 245.7zM591.5 238.8L595.3 245.5L587.8 245.5zM592.9 238.6L596.6 245.3L589.1 245.3zM594.2 238.4L598 245.1L590.5 245.1zM595.6 238.2L599.3 244.9L591.8 244.9zM596.9 238L600.6 244.6L593.1 244.6zM598.2 238.1L602 244.8L594.5 244.8zM599.6 238.3L603.3 245L595.8 245zM600.9 238.5L604.7 245.2L597.2 245.2zM602.3 238.7L606 245.3L598.5 245.3zM603.6 238.9L607.3 245.5L599.8 245.5zM604.9 239.1L608.7 245.7L601.2 245.7zM606.3 239.2L610 245.9L602.5 245.9zM607.6 239.9L611.4 246.6L603.9 246.6zM609 240.8L612.7 247.4L605.2 247.4zM610.3 241.6L614 248.3L606.5 248.3zM611.6 242.5L615.4 249.2L607.9 249.2zM613 243.4L616.7 250L609.2 250zM613.8 243.9L617.5 250.6L610 250.6zM614.3 243.1L618.1 249.8L610.6 249.8zM615.7 241.2L619.4 247.9L611.9 247.9zM617 239.3L620.7 245.9L613.2 245.9zM618.3 237.3L622.1 244L614.6 244zM619.7 235.4L623.4 242.1L615.9 242.1zM619.9 235.1L623.6 241.8L616.1 241.8zM621 238.3L624.8 244.9L617.3 244.9zM622.4 242L626.1 248.7L618.6 248.7zM623.7 245.8L627.4 252.5L619.9 252.5zM625 249.6L628.8 256.3L621.3 256.3zM626.4 253.4L630.1 260.1L622.6 260.1zM627.7 257.2L631.5 263.9L624 263.9zM628.7 260L632.5 266.7L625 266.7zM629.1 257.5L632.8 264.1L625.3 264.1zM630.4 248L634.1 254.7L626.6 254.7zM631.5 240.3L635.2 247L627.8 247zM631.7 240.7L635.5 247.4L628 247.4zM633.1 243.3L636.8 250L629.3 250zM633.7 244.5L637.5 251.2L630 251.2zM634.4 242.2L638.2 248.9L630.7 248.9zM635.8 238L639.5 244.7L632 244.7zM637.1 233.9L640.8 240.5L633.3 240.5zM638.4 229.7L642.2 236.4L634.7 236.4zM639.3 227L643 233.7L635.5 233.7zM639.8 228.3L643.5 235L636 235zM641.1 232L644.9 238.7L637.4 238.7zM642.5 235.7L646.2 242.3L638.7 242.3zM643.8 239.3L647.6 246L640.1 246zM645.1 241.3L648.9 248L641.4 248zM646.5 243L650.2 249.6L642.7 249.6zM647.8 244.6L651.6 251.3L644.1 251.3zM649.2 246.3L652.9 252.9L645.4 252.9zM650.5 247.9L654.3 254.6L646.8 254.6zM651.2 248.8L655 255.5L647.5 255.5zM651.8 247.6L655.6 254.2L648.1 254.2zM653.2 245L656.9 251.7L649.4 251.7zM654.5 242.5L658.3 249.1L650.8 249.1zM655.9 239.9L659.6 246.6L652.1 246.6z" fill="#3b66ba"/>
<path d="M124.7 252.3L350 252.3L353.3 248L358 242.8L359.7 230.4L362.3 202.5L364.1 164L366.7 131L369.2 172L371.1 226L373 266L376.2 219.5L377.4 181.5L380 166L382.8 150L385.4 196L388.4 251L389.4 160L390.7 102L393.9 303L397.8 155L401.3 274L404.9 196L409 270L413 300L416.8 335L420.8 278L424 345L428 383L432.6 398L436.3 321L439 348L442 377L444.9 359.5L447.5 398L451.2 454L455 381L457.2 340L460.2 312L462.4 348L468 400L472 426L477.1 448.5L481 410L483 370L485.5 344L490.4 340.5L496 350L501.2 372L504 335L508 320L512.1 299L516.9 334.5L520.5 368L524.1 389L528 355L531.4 320L535 291.6L539.8 267.5L545.8 251.8L548 284L551.8 303.7L561.5 315.7L568.7 335L570.5 361L572.7 388L576 393.5L581 395.5L584.6 386L587.5 364L589.2 351.3L592.8 320L594 284L595.6 255L598.3 307L601 272L603.5 294L607.1 310L609.5 280L611.5 258L613.5 268L616 257L618.6 275.4L621.3 293L623 302L627.5 307L632.8 314L638 323L640.8 328.5L645 316L648.7 298.4L650.8 275.4L653 261L655.8 255" fill="none" stroke="#40a767" stroke-width="2.8" stroke-linejoin="round"/>
<path d="M139.4 256.6L143.1 249.9L135.6 249.9zM154.6 256.6L158.4 249.9L150.9 249.9zM169.9 256.6L173.7 249.9L166.2 249.9zM185.2 256.6L188.9 249.9L181.4 249.9zM200.4 256.6L204.2 249.9L196.7 249.9zM215.7 256.6L219.5 249.9L212 249.9zM231 256.6L234.7 249.9L227.2 249.9zM246.3 256.6L250 249.9L242.5 249.9zM261.5 256.6L265.3 249.9L257.8 249.9zM276.8 256.6L280.5 249.9L273 249.9zM286.2 256.6L289.9 249.9L282.4 249.9zM295.8 256.6L299.6 249.9L292.1 249.9zM305.7 256.6L309.4 249.9L301.9 249.9zM314.7 256.6L318.4 249.9L310.9 249.9zM321.7 256.6L325.4 249.9L317.9 249.9zM327.7 256.6L331.4 249.9L323.9 249.9zM332.7 256.6L336.4 249.9L328.9 249.9zM337 256.6L340.8 249.9L333.2 249.9zM340.6 256.6L344.4 249.9L336.9 249.9zM343.8 256.6L347.6 249.9L340.1 249.9zM346.6 256.6L350.4 249.9L342.9 249.9zM349 256.6L352.8 249.9L345.2 249.9zM351.4 254.8L355.1 248.1L347.6 248.1zM353.8 251.8L357.5 245.1L350 245.1zM356.2 249.1L359.9 242.4L352.4 242.4zM358.6 242.7L362.3 236.1L354.8 236.1zM361 220.8L364.7 214.1L357.2 214.1zM363.4 183.3L367.1 176.6L359.6 176.6zM365.8 146.7L369.5 140.1L362 140.1zM366.7 135.3L370.4 128.6L362.9 128.6zM368.2 159.9L371.9 153.2L364.4 153.2zM370.6 216.1L374.3 209.4L366.8 209.4zM373 270.3L376.7 263.6L369.2 263.6zM373 270.3L376.8 263.6L369.2 263.6zM375.4 235.4L379.1 228.8L371.6 228.8zM377.8 183.4L381.5 176.8L374 176.8zM380.2 169.2L383.9 162.5L376.4 162.5zM382.6 155.5L386.3 148.8L378.8 148.8zM382.8 154.3L386.6 147.6L379.1 147.6zM385 193.2L388.7 186.6L381.2 186.6zM387.4 237L391.1 230.3L383.6 230.3zM388.4 255.3L392.1 248.6L384.6 248.6zM389.8 146.5L393.5 139.8L386 139.8zM390.7 106.3L394.4 99.6L386.9 99.6zM392.2 200.5L395.9 193.9L388.4 193.9zM393.9 307.3L397.6 300.6L390.1 300.6zM394.6 280.8L398.3 274.1L390.8 274.1zM397 189.7L400.7 183L393.2 183zM397.8 159.3L401.6 152.6L394.1 152.6zM399.4 213.7L403.1 207L395.6 207zM401.3 278.3L405.1 271.6L397.6 271.6zM401.8 267.5L405.5 260.8L398 260.8zM404.2 215.5L407.9 208.8L400.4 208.8zM404.9 200.3L408.6 193.6L401.1 193.6zM406.6 231L410.3 224.3L402.8 224.3zM409 274.3L412.7 267.6L405.2 267.6zM411.4 292.3L415.1 285.6L407.6 285.6zM413.8 311.7L417.5 305L410 305zM416.2 333.8L419.9 327.1L412.4 327.1zM416.8 339.3L420.6 332.6L413.1 332.6zM418.6 313.7L422.3 307L414.8 307zM420.8 282.3L424.6 275.6L417.1 275.6zM421 286.5L424.7 279.8L417.2 279.8zM423.4 336.8L427.1 330.1L419.6 330.1zM425.8 366.4L429.5 359.7L422 359.7zM428.2 388L431.9 381.3L424.4 381.3zM430.6 395.8L434.3 389.1L426.8 389.1zM432.6 402.3L436.4 395.6L428.9 395.6zM433 394L436.7 387.3L429.2 387.3zM435.4 344L439.1 337.4L431.6 337.4zM436.3 325.3L440.1 318.6L432.6 318.6zM437.8 340.3L441.5 333.6L434 333.6zM440.2 363.9L443.9 357.2L436.4 357.2zM442 381.3L445.8 374.6L438.2 374.6zM442.6 377.7L446.3 371L438.8 371zM444.9 363.8L448.6 357.1L441.1 357.1zM445 365.3L448.7 358.6L441.2 358.6zM447.4 400.8L451.1 394.2L443.6 394.2zM449.8 437.1L453.5 430.4L446 430.4zM451.2 458.3L454.9 451.6L447.4 451.6zM452.2 439.1L455.9 432.4L448.4 432.4zM454.6 393L458.3 386.3L450.8 386.3zM457 348L460.7 341.4L453.2 341.4zM459.4 323.8L463.1 317.1L455.6 317.1zM460.2 316.3L463.9 309.6L456.4 309.6zM461.8 342.5L465.5 335.8L458 335.8zM464.2 369L467.9 362.4L460.4 362.4zM466.6 391.3L470.3 384.6L462.8 384.6zM469 410.8L472.7 404.1L465.2 404.1zM471.4 426.4L475.1 419.7L467.6 419.7zM473.8 438.3L477.5 431.6L470 431.6zM476.2 448.8L479.9 442.2L472.4 442.2zM477.1 452.8L480.9 446.1L473.4 446.1zM478.6 438L482.3 431.3L474.8 431.3zM481 414.3L484.7 407.6L477.2 407.6zM483.4 370.2L487.1 363.5L479.6 363.5zM485.8 348.1L489.5 341.4L482 341.4zM488.2 346.4L491.9 339.7L484.4 339.7zM490.4 344.8L494.1 338.1L486.6 338.1zM490.6 345.2L494.3 338.5L486.8 338.5zM493 349.2L496.7 342.5L489.2 342.5zM495.4 353.3L499.1 346.6L491.6 346.6zM497.8 361.9L501.5 355.3L494 355.3zM500.2 372.1L503.9 365.4L496.4 365.4zM501.2 376.3L504.9 369.6L497.4 369.6zM502.6 357.8L506.3 351.1L498.8 351.1zM505 335.6L508.7 328.9L501.2 328.9zM507.4 326.6L511.1 319.9L503.6 319.9zM509.8 315.1L513.5 308.4L506 308.4zM512.1 303.3L515.9 296.6L508.4 296.6zM512.2 304.1L515.9 297.4L508.4 297.4zM514.6 321.8L518.3 315.1L510.8 315.1zM517 339.7L520.7 333.1L513.2 333.1zM519.4 362.1L523.1 355.4L515.6 355.4zM521.8 379.9L525.5 373.2L518 373.2zM524.1 393.3L527.9 386.6L520.4 386.6zM524.2 392.4L527.9 385.8L520.4 385.8zM526.6 371.5L530.3 364.8L522.8 364.8zM529 349L532.7 342.3L525.2 342.3zM531.4 324.3L535.1 317.6L527.6 317.6zM533.8 305.4L537.5 298.7L530 298.7zM536.2 289.9L539.9 283.2L532.4 283.2zM538.6 277.8L542.3 271.2L534.8 271.2zM541 268.7L544.7 262L537.2 262zM543.4 262.4L547.1 255.7L539.6 255.7zM545.8 256.1L549.5 249.4L542 249.4zM545.8 256.1L549.5 249.4L542 249.4zM548.2 289.4L551.9 282.7L544.4 282.7zM550.6 301.8L554.3 295.1L546.8 295.1zM553 309.5L556.7 302.8L549.2 302.8zM555.4 312.5L559.1 305.8L551.6 305.8zM557.8 315.4L561.5 308.8L554 308.8zM560.2 318.4L563.9 311.7L556.4 311.7zM562.6 323L566.3 316.3L558.8 316.3zM565 329.4L568.7 322.7L561.2 322.7zM567.4 335.8L571.1 329.2L563.6 329.2zM569.8 355.2L573.5 348.5L566 348.5zM572.2 386.2L575.9 379.5L568.4 379.5zM574.6 395.5L578.3 388.8L570.8 388.8zM577 398.2L580.7 391.5L573.2 391.5zM579.4 399.2L583.1 392.5L575.6 392.5zM581.8 397.7L585.5 391L578 391zM584.2 391.4L587.9 384.7L580.4 384.7zM586.6 375.1L590.3 368.5L582.8 368.5zM589 357.1L592.7 350.4L585.2 350.4zM591.4 336.5L595.1 329.8L587.6 329.8zM593.8 294.3L597.5 287.6L590 287.6zM595.6 259.3L599.4 252.6L591.9 252.6zM596.2 270.9L599.9 264.2L592.4 264.2zM598.3 311.3L602 304.6L594.5 304.6zM598.6 307.4L602.3 300.7L594.8 300.7zM601 276.3L604.7 269.6L597.2 269.6zM601 276.3L604.8 269.6L597.2 269.6zM603.4 297.4L607.1 290.8L599.6 290.8zM605.8 308.5L609.5 301.9L602 301.9zM607.1 314.3L610.9 307.6L603.4 307.6zM608.2 300.6L611.9 293.9L604.4 293.9zM610.6 272.2L614.3 265.5L606.8 265.5zM611.5 262.3L615.2 255.6L607.8 255.6zM613 269.8L616.7 263.1L609.2 263.1zM613.5 272.3L617.2 265.6L609.8 265.6zM615.4 264L619.1 257.3L611.6 257.3zM616 261.3L619.8 254.6L612.2 254.6zM617.8 274.1L621.5 267.4L614 267.4zM620.2 290.1L623.9 283.5L616.4 283.5zM622.6 304.2L626.3 297.5L618.8 297.5zM625 308.5L628.7 301.9L621.2 301.9zM627.4 311.2L631.1 304.5L623.6 304.5zM629.8 314.4L633.5 307.7L626 307.7zM632.2 317.5L635.9 310.8L628.4 310.8zM634.6 321.4L638.3 314.8L630.8 314.8zM637 325.6L640.7 318.9L633.2 318.9zM639.4 330.1L643.1 323.4L635.6 323.4zM640.8 332.8L644.5 326.1L637 326.1zM641.8 329.8L645.5 323.2L638 323.2zM644.2 322.7L647.9 316L640.4 316zM646.6 312.7L650.3 306L642.8 306zM649 299.4L652.7 292.8L645.2 292.8zM651.4 275.8L655.1 269.1L647.6 269.1zM653.8 263.6L657.5 256.9L650 256.9zM656.2 259.3L659.9 252.6L652.4 252.6z" fill="#40a767"/>
<path d="M124.7 252.3L394 252.3L396.9 251L400 247L404.5 242.5L409 248L413 256L416.5 252L420.2 246.5L424 250L428.5 255L433 254L436 254L439.7 260L443.3 277L446.2 283L448 272L449.9 229L451.5 218L454.2 212L457 225L459.5 255L461.4 268.5L463.8 248L468.7 240L474.7 234L480.7 238.5L484.4 229L488 218L494 211L498 214L501.2 213L503.6 200L505.4 185L507.2 175.4L509 190L510.9 205.6L513 180L515.7 158.5L518 180L520 215L521.7 238.6L523 200L525.3 153.7L528 175L531.3 215L533.5 200L536.2 191L539 210L541 236L542.2 255L544.6 277L549.4 284.4L555.5 292.8L560.3 279.6L565.1 266.3L571.1 270L578.4 282L583.2 296.5L589.2 308.5L595.3 320.6L602.5 332.6L609.7 340L617 334L624.2 340L632.6 346L641 335L648.3 320.6L656 305" fill="none" stroke="#9a6bc6" stroke-width="2.8" stroke-linejoin="round"/>
<path d="M139.4 247.9L143.2 252.3L139.4 256.7L135.6 252.3zM154.6 247.9L158.4 252.3L154.6 256.7L150.8 252.3zM169.9 247.9L173.7 252.3L169.9 256.7L166.1 252.3zM185.2 247.9L189 252.3L185.2 256.7L181.4 252.3zM200.4 247.9L204.3 252.3L200.4 256.7L196.6 252.3zM215.7 247.9L219.5 252.3L215.7 256.7L211.9 252.3zM231 247.9L234.8 252.3L231 256.7L227.2 252.3zM246.3 247.9L250.1 252.3L246.3 256.7L242.5 252.3zM261.5 247.9L265.3 252.3L261.5 256.7L257.7 252.3zM276.8 247.9L280.6 252.3L276.8 256.7L273 252.3zM286.2 247.9L290 252.3L286.2 256.7L282.4 252.3zM295.8 247.9L299.6 252.3L295.8 256.7L292 252.3zM305.7 247.9L309.5 252.3L305.7 256.7L301.9 252.3zM314.7 247.9L318.5 252.3L314.7 256.7L310.9 252.3zM321.7 247.9L325.5 252.3L321.7 256.7L317.9 252.3zM327.7 247.9L331.5 252.3L327.7 256.7L323.9 252.3zM332.7 247.9L336.5 252.3L332.7 256.7L328.9 252.3zM337 247.9L340.8 252.3L337 256.7L333.2 252.3zM340.6 247.9L344.4 252.3L340.6 256.7L336.8 252.3zM343.8 247.9L347.6 252.3L343.8 256.7L340 252.3zM346.6 247.9L350.4 252.3L346.6 256.7L342.8 252.3zM349 247.9L352.8 252.3L349 256.7L345.2 252.3zM351 247.9L354.8 252.3L351 256.7L347.2 252.3zM353 247.9L356.8 252.3L353 256.7L349.2 252.3zM355 247.9L358.8 252.3L355 256.7L351.2 252.3zM357 247.9L360.8 252.3L357 256.7L353.2 252.3zM359 247.9L362.8 252.3L359 256.7L355.2 252.3zM361 247.9L364.8 252.3L361 256.7L357.2 252.3zM363 247.9L366.8 252.3L363 256.7L359.2 252.3zM365 247.9L368.8 252.3L365 256.7L361.2 252.3zM367 247.9L370.8 252.3L367 256.7L363.2 252.3zM369 247.9L372.8 252.3L369 256.7L365.2 252.3zM371 247.9L374.8 252.3L371 256.7L367.2 252.3zM373 247.9L376.8 252.3L373 256.7L369.2 252.3zM375 247.9L378.8 252.3L375 256.7L371.2 252.3zM377 247.9L380.8 252.3L377 256.7L373.2 252.3zM379 247.9L382.8 252.3L379 256.7L375.2 252.3zM381 247.9L384.8 252.3L381 256.7L377.2 252.3zM383 247.9L386.8 252.3L383 256.7L379.2 252.3zM385 247.9L388.8 252.3L385 256.7L381.2 252.3zM387 247.9L390.8 252.3L387 256.7L383.2 252.3zM389 247.9L392.8 252.3L389 256.7L385.2 252.3zM391 247.9L394.8 252.3L391 256.7L387.2 252.3zM393 247.9L396.8 252.3L393 256.7L389.2 252.3zM395 247.4L398.8 251.9L395 256.3L391.2 251.9zM397 246.5L400.8 250.9L397 255.3L393.2 250.9zM399 243.9L402.8 248.3L399 252.7L395.2 248.3zM401 241.6L404.8 246L401 250.4L397.2 246zM403 239.6L406.8 244L403 248.4L399.2 244zM405 238.7L408.8 243.1L405 247.5L401.2 243.1zM407 241.1L410.8 245.6L407 250L403.2 245.6zM409 243.6L412.8 248L409 252.4L405.2 248zM411 247.6L414.8 252L411 256.4L407.2 252zM413 251.6L416.8 256L413 260.4L409.2 256zM415 249.3L418.8 253.7L415 258.1L411.2 253.7zM417 246.8L420.8 251.3L417 255.7L413.2 251.3zM419 243.9L422.8 248.3L419 252.7L415.2 248.3zM421 242.8L424.8 247.2L421 251.7L417.2 247.2zM423 244.7L426.8 249.1L423 253.5L419.2 249.1zM425 246.7L428.8 251.1L425 255.5L421.2 251.1zM427 248.9L430.8 253.3L427 257.8L423.2 253.3zM429 250.5L432.8 254.9L429 259.3L425.2 254.9zM431 250L434.8 254.4L431 258.9L427.2 254.4zM433 249.6L436.8 254L433 258.4L429.2 254zM435 249.6L438.8 254L435 258.4L431.2 254zM437 251.2L440.8 255.6L437 260L433.2 255.6zM439 254.4L442.8 258.9L439 263.3L435.2 258.9zM441 261.7L444.8 266.1L441 270.6L437.2 266.1zM443 271.2L446.8 275.6L443 280L439.2 275.6zM445 276.1L448.8 280.5L445 284.9L441.2 280.5zM446.2 278.6L450 283L446.2 287.4L442.4 283zM447 273.7L450.8 278.1L447 282.5L443.2 278.1zM449 245L452.8 249.4L449 253.8L445.2 249.4zM451 217L454.8 221.4L451 225.9L447.2 221.4zM453 210.2L456.8 214.7L453 219.1L449.2 214.7zM454.2 207.6L458 212L454.2 216.4L450.4 212zM455 211.3L458.8 215.7L455 220.1L451.2 215.7zM457 220.6L460.8 225L457 229.4L453.2 225zM459 244.6L462.8 249L459 253.4L455.2 249zM461 261.2L464.8 265.7L461 270.1L457.2 265.7zM461.4 264.1L465.2 268.5L461.4 272.9L457.6 268.5zM463 250.4L466.8 254.8L463 259.3L459.2 254.8zM465 241.6L468.8 246L465 250.5L461.2 246zM467 238.4L470.8 242.8L467 247.2L463.2 242.8zM469 235.3L472.8 239.7L469 244.1L465.2 239.7zM471 233.3L474.8 237.7L471 242.1L467.2 237.7zM473 231.3L476.8 235.7L473 240.1L469.2 235.7zM475 229.8L478.8 234.2L475 238.6L471.2 234.2zM477 231.3L480.8 235.7L477 240.1L473.2 235.7zM479 232.8L482.8 237.2L479 241.6L475.2 237.2zM480.7 234.1L484.5 238.5L480.7 242.9L476.9 238.5zM481 233.3L484.8 237.7L481 242.1L477.2 237.7zM483 228.2L486.8 232.6L483 237L479.2 232.6zM485 222.7L488.8 227.2L485 231.6L481.2 227.2zM487 216.6L490.8 221.1L487 225.5L483.2 221.1zM489 212.4L492.8 216.8L489 221.3L485.2 216.8zM491 210.1L494.8 214.5L491 218.9L487.2 214.5zM493 207.7L496.8 212.2L493 216.6L489.2 212.2zM495 207.3L498.8 211.8L495 216.2L491.2 211.8zM497 208.8L500.8 213.2L497 217.7L493.2 213.2zM499 209.3L502.8 213.7L499 218.1L495.2 213.7zM501 208.6L504.8 213.1L501 217.5L497.2 213.1zM503 198.8L506.8 203.3L503 207.7L499.2 203.3zM505 183.9L508.8 188.3L505 192.8L501.2 188.3zM507 172L510.8 176.5L507 180.9L503.2 176.5zM507.2 171L511 175.4L507.2 179.8L503.4 175.4zM509 185.6L512.8 190L509 194.4L505.2 190zM510.9 201.2L514.7 205.6L510.9 210L507.1 205.6zM511 200L514.8 204.4L511 208.8L507.2 204.4zM513 175.6L516.8 180L513 184.4L509.2 180zM515 159.7L518.8 164.1L515 168.5L511.2 164.1zM515.7 154.1L519.5 158.5L515.7 162.9L511.9 158.5zM517 166.2L520.8 170.7L517 175.1L513.2 170.7zM519 193.1L522.8 197.5L519 201.9L515.2 197.5zM521 224.5L524.8 228.9L521 233.3L517.2 228.9zM521.7 234.2L525.5 238.6L521.7 243L517.9 238.6zM523 195.6L526.8 200L523 204.4L519.2 200zM525 155.3L528.8 159.7L525 164.2L521.2 159.7zM525.3 149.3L529.1 153.7L525.3 158.1L521.5 153.7zM527 162.7L530.8 167.1L527 171.5L523.2 167.1zM529 182.7L532.8 187.1L529 191.5L525.2 187.1zM531 206.9L534.8 211.4L531 215.8L527.2 211.4zM531.3 210.6L535.1 215L531.3 219.4L527.5 215zM533 199L536.8 203.4L533 207.8L529.2 203.4zM535 190.6L538.8 195L535 199.4L531.2 195zM536.2 186.6L540 191L536.2 195.4L532.4 191zM537 192L540.8 196.4L537 200.8L533.2 196.4zM539 205.6L542.8 210L539 214.4L535.2 210zM541 231.6L544.8 236L541 240.4L537.2 236zM543 257.9L546.8 262.3L543 266.8L539.2 262.3zM545 273.2L548.8 277.6L545 282L541.2 277.6zM547 276.3L550.8 280.7L547 285.1L543.2 280.7zM549 279.4L552.8 283.8L549 288.2L545.2 283.8zM551 282.2L554.8 286.6L551 291L547.2 286.6zM553 284.9L556.8 289.4L553 293.8L549.2 289.4zM555 287.7L558.8 292.1L555 296.5L551.2 292.1zM555.5 288.4L559.3 292.8L555.5 297.2L551.7 292.8zM557 284.3L560.8 288.7L557 293.1L553.2 288.7zM559 278.8L562.8 283.2L559 287.6L555.2 283.2zM561 273.2L564.8 277.7L561 282.1L557.2 277.7zM563 267.7L566.8 272.1L563 276.5L559.2 272.1zM565 262.2L568.8 266.6L565 271L561.2 266.6zM565.1 261.9L568.9 266.3L565.1 270.7L561.3 266.3zM567 263.1L570.8 267.5L567 271.9L563.2 267.5zM569 264.3L572.8 268.7L569 273.1L565.2 268.7zM571 265.5L574.8 269.9L571 274.4L567.2 269.9zM573 268.7L576.8 273.1L573 277.5L569.2 273.1zM575 272L578.8 276.4L575 280.8L571.2 276.4zM577 275.3L580.8 279.7L577 284.1L573.2 279.7zM579 279.4L582.8 283.8L579 288.2L575.2 283.8zM581 285.4L584.8 289.9L581 294.3L577.2 289.9zM583 291.5L586.8 295.9L583 300.3L579.2 295.9zM585 295.7L588.8 300.1L585 304.5L581.2 300.1zM587 299.7L590.8 304.1L587 308.5L583.2 304.1zM589 303.7L592.8 308.1L589 312.5L585.2 308.1zM591 307.7L594.8 312.1L591 316.5L587.2 312.1zM593 311.6L596.8 316L593 320.5L589.2 316zM595 315.6L598.8 320L595 324.4L591.2 320zM597 319L600.8 323.4L597 327.9L593.2 323.4zM599 322.3L602.8 326.8L599 331.2L595.2 326.8zM601 325.7L604.8 330.1L601 334.5L597.2 330.1zM603 328.7L606.8 333.1L603 337.5L599.2 333.1zM605 330.8L608.8 335.2L605 339.6L601.2 335.2zM607 332.8L610.8 337.2L607 341.6L603.2 337.2zM609 334.9L612.8 339.3L609 343.7L605.2 339.3zM609.7 335.6L613.5 340L609.7 344.4L605.9 340zM611 334.5L614.8 338.9L611 343.3L607.2 338.9zM613 332.9L616.8 337.3L613 341.7L609.2 337.3zM615 331.2L618.8 335.6L615 340.1L611.2 335.6zM617 329.6L620.8 334L617 338.4L613.2 334zM619 331.2L622.8 335.7L619 340.1L615.2 335.7zM621 332.9L624.8 337.3L621 341.8L617.2 337.3zM623 334.6L626.8 339L623 343.4L619.2 339zM625 336.2L628.8 340.6L625 345L621.2 340.6zM627 337.6L630.8 342L627 346.4L623.2 342zM629 339L632.8 343.4L629 347.8L625.2 343.4zM631 340.4L634.8 344.9L631 349.3L627.2 344.9zM632.6 341.6L636.4 346L632.6 350.4L628.8 346zM633 341.1L636.8 345.5L633 349.9L629.2 345.5zM635 338.4L638.8 342.9L635 347.3L631.2 342.9zM637 335.8L640.8 340.2L637 344.7L633.2 340.2zM639 333.2L642.8 337.6L639 342L635.2 337.6zM641 330.6L644.8 335L641 339.4L637.2 335zM643 326.6L646.8 331.1L643 335.5L639.2 331.1zM645 322.7L648.8 327.1L645 331.5L641.2 327.1zM647 318.7L650.8 323.2L647 327.6L643.2 323.2zM649 314.8L652.8 319.2L649 323.6L645.2 319.2zM651 310.7L654.8 315.1L651 319.5L647.2 315.1zM653 306.7L656.8 311.1L653 315.5L649.2 311.1zM655 302.6L658.8 307L655 311.4L651.2 307zM657 300.6L660.8 305L657 309.4L653.2 305z" fill="#9a6bc6"/>
<path d="M124.7 252.3L430 252.3L436 251L443.3 248.2L455.4 251.8L463.8 257.9L469.9 277.2L474.7 284.4L479.5 265.1L483.1 249.4L488 256.7L494 243.4L498.8 260.3L503.6 262.7L509.6 254.3L520.5 247L530.1 251.8L537.4 261.5L542.2 255.5L545.8 245.8L550.6 261.5L555.5 263.9L563.9 254.3L572.3 247L578.4 251.8L589.2 245.8L597.7 244.6L607.3 245.8L613.3 249.4L619.4 238.6L628.2 265.5L631 243.8L633.2 250L638.8 230.5L643.5 243.4L650.7 254.3L656 242.2" fill="none" stroke="#b98a28" stroke-width="2.8" stroke-linejoin="round"/>
<path d="M135.1 252.3L141.7 248.6L141.7 256.1zM150.3 252.3L157 248.6L157 256.1zM165.6 252.3L172.3 248.6L172.3 256.1zM180.9 252.3L187.5 248.6L187.5 256.1zM196.1 252.3L202.8 248.6L202.8 256.1zM211.4 252.3L218.1 248.6L218.1 256.1zM226.7 252.3L233.4 248.6L233.4 256.1zM241.9 252.3L248.6 248.6L248.6 256.1zM257.2 252.3L263.9 248.6L263.9 256.1zM272.5 252.3L279.2 248.6L279.2 256.1zM281.9 252.3L288.6 248.6L288.6 256.1zM291.5 252.3L298.2 248.6L298.2 256.1zM301.4 252.3L308.1 248.6L308.1 256.1zM310.4 252.3L317.1 248.6L317.1 256.1zM317.4 252.3L324.1 248.6L324.1 256.1zM323.4 252.3L330.1 248.6L330.1 256.1zM328.4 252.3L335.1 248.6L335.1 256.1zM332.7 252.3L339.4 248.6L339.4 256.1zM336.3 252.3L343 248.6L343 256.1zM339.5 252.3L346.2 248.6L346.2 256.1zM342.3 252.3L349 248.6L349 256.1zM344.7 252.3L351.4 248.6L351.4 256.1zM346 252.3L352.7 248.6L352.7 256.1zM347.4 252.3L354 248.6L354 256.1zM348.7 252.3L355.4 248.6L355.4 256.1zM350 252.3L356.7 248.6L356.7 256.1zM351.4 252.3L358.1 248.6L358.1 256.1zM352.7 252.3L359.4 248.6L359.4 256.1zM354.1 252.3L360.7 248.6L360.7 256.1zM355.4 252.3L362.1 248.6L362.1 256.1zM356.7 252.3L363.4 248.6L363.4 256.1zM358.1 252.3L364.8 248.6L364.8 256.1zM359.4 252.3L366.1 248.6L366.1 256.1zM360.8 252.3L367.4 248.6L367.4 256.1zM362.1 252.3L368.8 248.6L368.8 256.1zM363.4 252.3L370.1 248.6L370.1 256.1zM364.8 252.3L371.5 248.6L371.5 256.1zM366.1 252.3L372.8 248.6L372.8 256.1zM367.5 252.3L374.1 248.6L374.1 256.1zM368.8 252.3L375.5 248.6L375.5 256.1zM370.1 252.3L376.8 248.6L376.8 256.1zM371.5 252.3L378.2 248.6L378.2 256.1zM372.8 252.3L379.5 248.6L379.5 256.1zM374.2 252.3L380.8 248.6L380.8 256.1zM375.5 252.3L382.2 248.6L382.2 256.1zM376.8 252.3L383.5 248.6L383.5 256.1zM378.2 252.3L384.9 248.6L384.9 256.1zM379.5 252.3L386.2 248.6L386.2 256.1zM380.9 252.3L387.5 248.6L387.5 256.1zM382.2 252.3L388.9 248.6L388.9 256.1zM383.5 252.3L390.2 248.6L390.2 256.1zM384.9 252.3L391.6 248.6L391.6 256.1zM386.2 252.3L392.9 248.6L392.9 256.1zM387.6 252.3L394.2 248.6L394.2 256.1zM388.9 252.3L395.6 248.6L395.6 256.1zM390.2 252.3L396.9 248.6L396.9 256.1zM391.6 252.3L398.3 248.6L398.3 256.1zM392.9 252.3L399.6 248.6L399.6 256.1zM394.3 252.3L400.9 248.6L400.9 256.1zM395.6 252.3L402.3 248.6L402.3 256.1zM396.9 252.3L403.6 248.6L403.6 256.1zM398.3 252.3L405 248.6L405 256.1zM399.6 252.3L406.3 248.6L406.3 256.1zM401 252.3L407.6 248.6L407.6 256.1zM402.3 252.3L409 248.6L409 256.1zM403.6 252.3L410.3 248.6L410.3 256.1zM405 252.3L411.7 248.6L411.7 256.1zM406.3 252.3L413 248.6L413 256.1zM407.7 252.3L414.3 248.6L414.3 256.1zM409 252.3L415.7 248.6L415.7 256.1zM410.3 252.3L417 248.6L417 256.1zM411.7 252.3L418.4 248.6L418.4 256.1zM413 252.3L419.7 248.6L419.7 256.1zM414.4 252.3L421 248.6L421 256.1zM415.7 252.3L422.4 248.6L422.4 256.1zM417 252.3L423.7 248.6L423.7 256.1zM418.4 252.3L425.1 248.6L425.1 256.1zM419.7 252.3L426.4 248.6L426.4 256.1zM421.1 252.3L427.7 248.6L427.7 256.1zM422.4 252.3L429.1 248.6L429.1 256.1zM423.7 252.3L430.4 248.6L430.4 256.1zM425.1 252.3L431.8 248.6L431.8 256.1zM426.4 252.1L433.1 248.4L433.1 255.9zM427.8 251.8L434.4 248.1L434.4 255.6zM429.1 251.6L435.8 247.8L435.8 255.3zM430.4 251.3L437.1 247.5L437.1 255zM431.8 251L438.5 247.2L438.5 254.7zM433.1 250.4L439.8 246.7L439.8 254.2zM434.5 249.9L441.1 246.2L441.1 253.7zM435.8 249.4L442.5 245.7L442.5 253.2zM437.1 248.9L443.8 245.2L443.8 252.7zM438.5 248.4L445.2 244.6L445.2 252.1zM439.8 248.4L446.5 244.7L446.5 252.2zM441.2 248.8L447.8 245.1L447.8 252.6zM442.5 249.2L449.2 245.5L449.2 253zM443.8 249.6L450.5 245.9L450.5 253.4zM445.2 250L451.9 246.3L451.9 253.8zM446.5 250.4L453.2 246.7L453.2 254.2zM447.9 250.8L454.5 247.1L454.5 254.6zM449.2 251.2L455.9 247.5L455.9 255zM450.5 251.6L457.2 247.9L457.2 255.4zM451.9 252.4L458.6 248.6L458.6 256.1zM453.2 253.4L459.9 249.6L459.9 257.1zM454.6 254.3L461.2 250.6L461.2 258.1zM455.9 255.3L462.6 251.6L462.6 259.1zM457.2 256.3L463.9 252.5L463.9 260zM458.6 257.2L465.3 253.5L465.3 261zM459.9 259.3L466.6 255.5L466.6 263zM461.3 263.5L467.9 259.8L467.9 267.3zM462.6 267.8L469.3 264L469.3 271.5zM463.9 272L470.6 268.3L470.6 275.8zM465.3 276.3L472 272.5L472 280zM466.6 278.8L473.3 275L473.3 282.5zM468 280.8L474.6 277L474.6 284.5zM469.3 282.8L476 279L476 286.5zM470.4 284.4L477.1 280.6L477.1 288.1zM470.6 283.4L477.3 279.6L477.3 287.1zM472 278L478.7 274.2L478.7 281.7zM473.3 272.6L480 268.8L480 276.3zM474.7 267.2L481.3 263.4L481.3 270.9zM476 261.5L482.7 257.8L482.7 265.3zM477.3 255.7L484 251.9L484 259.4zM478.7 249.8L485.4 246.1L485.4 253.6zM478.8 249.4L485.5 245.7L485.5 253.2zM480 251.2L486.7 247.5L486.7 255zM481.4 253.2L488 249.5L488 257zM482.7 255.2L489.4 251.5L489.4 259zM483.7 256.7L490.4 252.9L490.4 260.4zM484 255.9L490.7 252.2L490.7 259.7zM485.4 252.9L492.1 249.2L492.1 256.7zM486.7 250L493.4 246.2L493.4 253.7zM488.1 247L494.7 243.2L494.7 250.7zM489.4 244L496.1 240.3L496.1 247.8zM489.7 243.4L496.4 239.7L496.4 247.2zM490.7 247.1L497.4 243.4L497.4 250.9zM492.1 251.8L498.8 248.1L498.8 255.6zM493.4 256.6L500.1 252.8L500.1 260.3zM494.8 260.4L501.4 256.7L501.4 264.2zM496.1 261.1L502.8 257.4L502.8 264.9zM497.4 261.8L504.1 258L504.1 265.5zM498.8 262.4L505.5 258.7L505.5 266.2zM500.1 261.5L506.8 257.8L506.8 265.3zM501.5 259.6L508.1 255.9L508.1 263.4zM502.8 257.8L509.5 254L509.5 261.5zM504.1 255.9L510.8 252.1L510.8 259.6zM505.5 254.2L512.2 250.4L512.2 257.9zM506.8 253.3L513.5 249.5L513.5 257zM508.2 252.4L514.8 248.6L514.8 256.1zM509.5 251.5L516.2 247.7L516.2 255.2zM510.8 250.6L517.5 246.8L517.5 254.3zM512.2 249.7L518.9 245.9L518.9 253.4zM513.5 248.8L520.2 245L520.2 252.5zM514.9 247.9L521.5 244.1L521.5 251.6zM516.2 247L522.9 243.2L522.9 250.8zM516.2 247L522.9 243.3L522.9 250.8zM517.5 247.7L524.2 243.9L524.2 251.4zM518.9 248.3L525.6 244.6L525.6 252.1zM520.2 249L526.9 245.3L526.9 252.8zM521.6 249.7L528.2 245.9L528.2 253.4zM522.9 250.4L529.6 246.6L529.6 254.1zM524.2 251L530.9 247.3L530.9 254.8zM525.6 251.7L532.3 247.9L532.3 255.4zM526.9 253.3L533.6 249.6L533.6 257.1zM528.3 255.1L534.9 251.3L534.9 258.8zM529.6 256.9L536.3 253.1L536.3 260.6zM530.9 258.7L537.6 254.9L537.6 262.4zM532.3 260.4L539 256.7L539 264.2zM533.1 261.5L539.8 257.8L539.8 265.2zM533.6 260.8L540.3 257.1L540.3 264.6zM535 259.2L541.6 255.4L541.6 262.9zM536.3 257.5L543 253.7L543 261.2zM537.6 255.8L544.3 252.1L544.3 259.6zM539 252.5L545.7 248.8L545.7 256.3zM540.3 248.9L547 245.2L547 252.7zM541.5 245.8L548.2 242.1L548.2 249.6zM541.7 246.4L548.3 242.6L548.3 250.1zM543 250.8L549.7 247L549.7 254.5zM544.3 255.2L551 251.4L551 258.9zM545.7 259.5L552.4 255.8L552.4 263.3zM547 261.9L553.7 258.1L553.7 265.6zM548.4 262.5L555 258.8L555 266.3zM549.7 263.2L556.4 259.4L556.4 266.9zM551 263.8L557.7 260.1L557.7 267.6zM552.4 262.5L559.1 258.8L559.1 266.3zM553.7 261L560.4 257.2L560.4 264.7zM555.1 259.5L561.7 255.7L561.7 263.2zM556.4 257.9L563.1 254.2L563.1 261.7zM557.7 256.4L564.4 252.7L564.4 260.2zM559.1 254.9L565.8 251.1L565.8 258.6zM560.4 253.6L567.1 249.8L567.1 257.3zM561.8 252.4L568.4 248.7L568.4 256.2zM563.1 251.2L569.8 247.5L569.8 255zM564.4 250.1L571.1 246.3L571.1 253.8zM565.8 248.9L572.5 245.2L572.5 252.7zM567.1 247.7L573.8 244L573.8 251.5zM568 247L574.7 243.2L574.7 250.8zM568.5 247.4L575.1 243.6L575.1 251.1zM569.8 248.4L576.5 244.7L576.5 252.2zM571.1 249.5L577.8 245.7L577.8 253.2zM572.5 250.5L579.2 246.8L579.2 254.3zM573.8 251.6L580.5 247.8L580.5 255.3zM575.2 251.2L581.8 247.5L581.8 255zM576.5 250.5L583.2 246.7L583.2 254.2zM577.8 249.7L584.5 246L584.5 253.5zM579.2 249L585.9 245.2L585.9 252.7zM580.5 248.2L587.2 244.5L587.2 252zM581.9 247.5L588.5 243.7L588.5 251.2zM583.2 246.7L589.9 243L589.9 250.5zM584.5 246L591.2 242.2L591.2 249.7zM585.9 245.7L592.6 241.9L592.6 249.4zM587.2 245.5L593.9 241.7L593.9 249.2zM588.6 245.3L595.2 241.5L595.2 249zM589.9 245.1L596.6 241.3L596.6 248.8zM591.2 244.9L597.9 241.2L597.9 248.7zM592.6 244.7L599.3 241L599.3 248.5zM593.9 244.7L600.6 240.9L600.6 248.4zM595.3 244.8L601.9 241.1L601.9 248.6zM596.6 245L603.3 241.3L603.3 248.8zM597.9 245.2L604.6 241.4L604.6 248.9zM599.3 245.3L606 241.6L606 249.1zM600.6 245.5L607.3 241.8L607.3 249.3zM602 245.7L608.6 241.9L608.6 249.4zM603.3 246L610 242.2L610 249.7zM604.6 246.8L611.3 243L611.3 250.5zM606 247.6L612.7 243.8L612.7 251.3zM607.3 248.4L614 244.7L614 252.2zM608.7 249.2L615.3 245.5L615.3 253zM609 249.4L615.7 245.7L615.7 253.2zM610 247.6L616.7 243.8L616.7 251.3zM611.3 245.2L618 241.5L618 249zM612.7 242.8L619.4 239.1L619.4 246.6zM614 240.5L620.7 236.7L620.7 244.2zM615.1 238.6L621.8 234.8L621.8 242.3zM615.4 239.5L622 235.7L622 243.2zM616.7 243.6L623.4 239.8L623.4 247.3zM618 247.6L624.7 243.9L624.7 251.4zM619.4 251.7L626.1 248L626.1 255.5zM620.7 255.8L627.4 252.1L627.4 259.6zM622.1 259.9L628.7 256.2L628.7 263.7zM623.4 264L630.1 260.3L630.1 267.8zM623.9 265.5L630.6 261.8L630.6 269.2zM624.7 258.8L631.4 255.1L631.4 262.6zM626.1 248.5L632.8 244.7L632.8 252.2zM626.7 243.8L633.4 240.1L633.4 247.6zM627.4 245.9L634.1 242.1L634.1 249.6zM628.8 249.7L635.4 245.9L635.4 253.4zM628.9 250L635.6 246.2L635.6 253.8zM630.1 245.8L636.8 242L636.8 249.5zM631.4 241.1L638.1 237.3L638.1 244.8zM632.8 236.4L639.5 232.7L639.5 240.2zM634.1 231.8L640.8 228L640.8 235.5zM634.5 230.5L641.2 226.8L641.2 234.2zM635.5 233.2L642.1 229.4L642.1 236.9zM636.8 236.9L643.5 233.1L643.5 240.6zM638.1 240.5L644.8 236.8L644.8 244.3zM639.5 243.9L646.2 240.1L646.2 247.6zM640.8 245.9L647.5 242.1L647.5 249.6zM642.2 247.9L648.8 244.2L648.8 251.7zM643.5 249.9L650.2 246.2L650.2 253.7zM644.8 252L651.5 248.2L651.5 255.7zM646.2 254L652.9 250.2L652.9 257.7zM646.4 254.3L653.1 250.6L653.1 258.1zM647.5 251.7L654.2 247.9L654.2 255.4zM648.9 248.6L655.5 244.9L655.5 252.4zM650.2 245.6L656.9 241.8L656.9 249.3zM651.5 242.5L658.2 238.8L658.2 246.3z" fill="#b98a28"/>
</g>
<g clip-path="url(#cr)">
<path d="M885.7 332.7L1155 332.7L1163.2 330L1170 326L1174.1 321.4L1178.2 307L1182.5 281.6L1186.1 252.7L1189.5 236L1192.6 229.8L1195.5 236L1198.2 249L1200.6 281.6L1205.4 310.6L1209 335L1212.7 348.6L1215.5 340L1219.2 322.6L1223.5 293.7L1227.9 272L1230.8 277L1233.9 310.6L1237 340L1240.4 355.8L1243 340L1245.2 322.6L1247.6 293.7L1252 273.2L1255.6 243.5L1259.2 258.7L1262.6 286.5L1265.7 303.3L1269.5 302L1273 302.1L1276.6 308.2L1280.2 325L1285 336L1293.4 346.2L1297.1 361.8L1303.1 377.5L1309.1 382.3L1314 375L1317.6 364.3L1322.4 361.8L1327.2 367.9L1332 361.8L1336.8 364L1341.7 369.1L1347.7 365.5L1352.5 346.2L1357.3 338.5L1362.1 341.4L1367 348.6L1371.8 346.2L1377.8 340.1L1385.1 343.8L1394.7 347.4L1404.4 348.6L1410.4 354.6L1416.4 363L1423.7 369.1L1430.9 364.3L1440.5 360.6L1449 355.8L1455 351L1462.2 346.2L1471.5 341.3" fill="none" stroke="#656565" stroke-width="2.2" stroke-linejoin="round"/>
<path d="M908.9 330h5.4v5.4h-5.4zM935.2 330h5.4v5.4h-5.4zM961.8 330h5.4v5.4h-5.4zM984.7 330h5.4v5.4h-5.4zM1002.1 330h5.4v5.4h-5.4zM1019.1 330h5.4v5.4h-5.4zM1036.1 330h5.4v5.4h-5.4zM1053.1 330h5.4v5.4h-5.4zM1068 330h5.4v5.4h-5.4zM1079 330h5.4v5.4h-5.4zM1089.4 330h5.4v5.4h-5.4zM1099 330h5.4v5.4h-5.4zM1108 330h5.4v5.4h-5.4zM1117 330h5.4v5.4h-5.4zM1125.6 330h5.4v5.4h-5.4zM1133 330h5.4v5.4h-5.4zM1139.4 330h5.4v5.4h-5.4zM1145.3 330h5.4v5.4h-5.4zM1150.7 330h5.4v5.4h-5.4zM1155.6 328.9h5.4v5.4h-5.4zM1160.1 327.4h5.4v5.4h-5.4zM1164.2 325.1h5.4v5.4h-5.4zM1167.9 322.6h5.4v5.4h-5.4zM1171.3 318.8h5.4v5.4h-5.4zM1174.5 307.8h5.4v5.4h-5.4zM1177.4 293.1h5.4v5.4h-5.4zM1180.3 274.7h5.4v5.4h-5.4zM1183.3 251.1h5.4v5.4h-5.4zM1186.2 236.3h5.4v5.4h-5.4zM1189.1 228.7h5.4v5.4h-5.4zM1192.1 231.7h5.4v5.4h-5.4zM1195 243.8h5.4v5.4h-5.4zM1197.9 279h5.4v5.4h-5.4zM1200.9 296.7h5.4v5.4h-5.4zM1203.8 315.2h5.4v5.4h-5.4zM1206.7 333.8h5.4v5.4h-5.4zM1209.6 344.6h5.4v5.4h-5.4zM1212.6 338.1h5.4v5.4h-5.4zM1215.5 324.7h5.4v5.4h-5.4zM1218.4 307h5.4v5.4h-5.4zM1221.4 288.3h5.4v5.4h-5.4zM1224.3 273.9h5.4v5.4h-5.4zM1227.2 272.8h5.4v5.4h-5.4zM1230.2 296.4h5.4v5.4h-5.4zM1233.1 325.6h5.4v5.4h-5.4zM1236 345.2h5.4v5.4h-5.4zM1238.9 345.6h5.4v5.4h-5.4zM1241.9 325h5.4v5.4h-5.4zM1244.8 292.3h5.4v5.4h-5.4zM1247.7 277.9h5.4v5.4h-5.4zM1250.7 259.4h5.4v5.4h-5.4zM1253.6 243.7h5.4v5.4h-5.4zM1256.5 256.1h5.4v5.4h-5.4zM1259.5 280.1h5.4v5.4h-5.4zM1262.4 297.2h5.4v5.4h-5.4zM1265.3 299.8h5.4v5.4h-5.4zM1268.2 299.4h5.4v5.4h-5.4zM1271.2 300.9h5.4v5.4h-5.4zM1274.1 306.4h5.4v5.4h-5.4zM1277 320.1h5.4v5.4h-5.4zM1280 327.9h5.4v5.4h-5.4zM1282.9 334h5.4v5.4h-5.4zM1285.8 337.6h5.4v5.4h-5.4zM1288.8 341.1h5.4v5.4h-5.4zM1291.7 347.6h5.4v5.4h-5.4zM1294.6 359.6h5.4v5.4h-5.4zM1297.5 367.3h5.4v5.4h-5.4zM1300.5 374.9h5.4v5.4h-5.4zM1303.4 377.2h5.4v5.4h-5.4zM1306.3 379.6h5.4v5.4h-5.4zM1309.3 375.4h5.4v5.4h-5.4zM1312.2 369.7h5.4v5.4h-5.4zM1315.1 361.5h5.4v5.4h-5.4zM1318.1 360h5.4v5.4h-5.4zM1321 360.7h5.4v5.4h-5.4zM1323.9 364.5h5.4v5.4h-5.4zM1326.8 362.3h5.4v5.4h-5.4zM1329.8 359.3h5.4v5.4h-5.4zM1332.7 360.7h5.4v5.4h-5.4zM1335.6 362.9h5.4v5.4h-5.4zM1338.6 365.9h5.4v5.4h-5.4zM1341.5 364.9h5.4v5.4h-5.4zM1344.4 363.2h5.4v5.4h-5.4zM1347.4 353.4h5.4v5.4h-5.4zM1350.3 342.8h5.4v5.4h-5.4zM1353.2 338.1h5.4v5.4h-5.4zM1356.1 336.7h5.4v5.4h-5.4zM1359.1 338.5h5.4v5.4h-5.4zM1362 342.5h5.4v5.4h-5.4zM1364.9 345.6h5.4v5.4h-5.4zM1367.9 344.1h5.4v5.4h-5.4zM1370.8 341.8h5.4v5.4h-5.4zM1373.7 338.8h5.4v5.4h-5.4zM1376.7 338.2h5.4v5.4h-5.4zM1379.6 339.7h5.4v5.4h-5.4zM1382.5 341.2h5.4v5.4h-5.4zM1385.4 342.3h5.4v5.4h-5.4zM1388.4 343.4h5.4v5.4h-5.4zM1391.3 344.4h5.4v5.4h-5.4zM1394.2 345h5.4v5.4h-5.4zM1397.2 345.4h5.4v5.4h-5.4zM1400.1 345.7h5.4v5.4h-5.4zM1403 347.2h5.4v5.4h-5.4zM1406 350.2h5.4v5.4h-5.4zM1408.9 353.6h5.4v5.4h-5.4zM1411.8 357.7h5.4v5.4h-5.4zM1414.7 361.2h5.4v5.4h-5.4zM1417.7 363.6h5.4v5.4h-5.4zM1420.6 366.1h5.4v5.4h-5.4zM1423.5 364.7h5.4v5.4h-5.4zM1426.5 362.8h5.4v5.4h-5.4zM1429.4 361.2h5.4v5.4h-5.4zM1432.3 360h5.4v5.4h-5.4zM1435.3 358.9h5.4v5.4h-5.4zM1438.2 357.7h5.4v5.4h-5.4zM1441.1 356.1h5.4v5.4h-5.4zM1444 354.4h5.4v5.4h-5.4zM1447 352.6h5.4v5.4h-5.4zM1449.9 350.2h5.4v5.4h-5.4zM1452.8 348h5.4v5.4h-5.4zM1455.8 346h5.4v5.4h-5.4zM1458.7 344.1h5.4v5.4h-5.4zM1461.6 342.4h5.4v5.4h-5.4zM1464.6 340.9h5.4v5.4h-5.4zM1467.5 339.3h5.4v5.4h-5.4z" fill="#656565"/>
<path d="M885.7 332.7L1270 332.7L1283.8 328.5L1290 329L1303 334L1315.1 337.7L1324.8 340.1L1336.8 346.2L1346.5 353.4L1356.1 358.2L1363.3 352.2L1368.2 346.2L1375.4 331.7L1380 325L1383.9 322.1L1388.7 328.1L1394.7 341.3L1399.5 346.2L1406.8 339L1410.4 334.1L1416 328L1421.2 325.7L1428.5 329.3L1435.7 335.3L1443 341.3L1457.4 345L1467 342.5L1471.5 340.1" fill="none" stroke="#e0384d" stroke-width="2.2" stroke-linejoin="round"/>
<path d="M908.6 332.7a3 3 0 1 0 6 0a3 3 0 1 0 -6 0zM934.9 332.7a3 3 0 1 0 6 0a3 3 0 1 0 -6 0zM961.5 332.7a3 3 0 1 0 6 0a3 3 0 1 0 -6 0zM984.4 332.7a3 3 0 1 0 6 0a3 3 0 1 0 -6 0zM1001.8 332.7a3 3 0 1 0 6 0a3 3 0 1 0 -6 0zM1018.8 332.7a3 3 0 1 0 6 0a3 3 0 1 0 -6 0zM1035.8 332.7a3 3 0 1 0 6 0a3 3 0 1 0 -6 0zM1052.8 332.7a3 3 0 1 0 6 0a3 3 0 1 0 -6 0zM1067.7 332.7a3 3 0 1 0 6 0a3 3 0 1 0 -6 0zM1078.7 332.7a3 3 0 1 0 6 0a3 3 0 1 0 -6 0zM1089.1 332.7a3 3 0 1 0 6 0a3 3 0 1 0 -6 0zM1098.7 332.7a3 3 0 1 0 6 0a3 3 0 1 0 -6 0zM1107.7 332.7a3 3 0 1 0 6 0a3 3 0 1 0 -6 0zM1116.7 332.7a3 3 0 1 0 6 0a3 3 0 1 0 -6 0zM1125.3 332.7a3 3 0 1 0 6 0a3 3 0 1 0 -6 0zM1132.7 332.7a3 3 0 1 0 6 0a3 3 0 1 0 -6 0zM1139.1 332.7a3 3 0 1 0 6 0a3 3 0 1 0 -6 0zM1145 332.7a3 3 0 1 0 6 0a3 3 0 1 0 -6 0zM1150.4 332.7a3 3 0 1 0 6 0a3 3 0 1 0 -6 0zM1155.3 332.7a3 3 0 1 0 6 0a3 3 0 1 0 -6 0zM1159.8 332.7a3 3 0 1 0 6 0a3 3 0 1 0 -6 0zM1163.9 332.7a3 3 0 1 0 6 0a3 3 0 1 0 -6 0zM1167.6 332.7a3 3 0 1 0 6 0a3 3 0 1 0 -6 0zM1171 332.7a3 3 0 1 0 6 0a3 3 0 1 0 -6 0zM1174.2 332.7a3 3 0 1 0 6 0a3 3 0 1 0 -6 0zM1177.1 332.7a3 3 0 1 0 6 0a3 3 0 1 0 -6 0zM1180 332.7a3 3 0 1 0 6 0a3 3 0 1 0 -6 0zM1182.9 332.7a3 3 0 1 0 6 0a3 3 0 1 0 -6 0zM1185.9 332.7a3 3 0 1 0 6 0a3 3 0 1 0 -6 0zM1188.8 332.7a3 3 0 1 0 6 0a3 3 0 1 0 -6 0zM1191.7 332.7a3 3 0 1 0 6 0a3 3 0 1 0 -6 0zM1194.7 332.7a3 3 0 1 0 6 0a3 3 0 1 0 -6 0zM1197.6 332.7a3 3 0 1 0 6 0a3 3 0 1 0 -6 0zM1200.5 332.7a3 3 0 1 0 6 0a3 3 0 1 0 -6 0zM1203.4 332.7a3 3 0 1 0 6 0a3 3 0 1 0 -6 0zM1206.4 332.7a3 3 0 1 0 6 0a3 3 0 1 0 -6 0zM1209.3 332.7a3 3 0 1 0 6 0a3 3 0 1 0 -6 0zM1212.2 332.7a3 3 0 1 0 6 0a3 3 0 1 0 -6 0zM1215.2 332.7a3 3 0 1 0 6 0a3 3 0 1 0 -6 0zM1218.1 332.7a3 3 0 1 0 6 0a3 3 0 1 0 -6 0zM1221 332.7a3 3 0 1 0 6 0a3 3 0 1 0 -6 0zM1224 332.7a3 3 0 1 0 6 0a3 3 0 1 0 -6 0zM1226.9 332.7a3 3 0 1 0 6 0a3 3 0 1 0 -6 0zM1229.8 332.7a3 3 0 1 0 6 0a3 3 0 1 0 -6 0zM1232.7 332.7a3 3 0 1 0 6 0a3 3 0 1 0 -6 0zM1235.7 332.7a3 3 0 1 0 6 0a3 3 0 1 0 -6 0zM1238.6 332.7a3 3 0 1 0 6 0a3 3 0 1 0 -6 0zM1241.5 332.7a3 3 0 1 0 6 0a3 3 0 1 0 -6 0zM1244.5 332.7a3 3 0 1 0 6 0a3 3 0 1 0 -6 0zM1247.4 332.7a3 3 0 1 0 6 0a3 3 0 1 0 -6 0zM1250.3 332.7a3 3 0 1 0 6 0a3 3 0 1 0 -6 0zM1253.3 332.7a3 3 0 1 0 6 0a3 3 0 1 0 -6 0zM1256.2 332.7a3 3 0 1 0 6 0a3 3 0 1 0 -6 0zM1259.1 332.7a3 3 0 1 0 6 0a3 3 0 1 0 -6 0zM1262 332.7a3 3 0 1 0 6 0a3 3 0 1 0 -6 0zM1265 332.7a3 3 0 1 0 6 0a3 3 0 1 0 -6 0zM1267.9 332.4a3 3 0 1 0 6 0a3 3 0 1 0 -6 0zM1270.8 331.5a3 3 0 1 0 6 0a3 3 0 1 0 -6 0zM1273.8 330.6a3 3 0 1 0 6 0a3 3 0 1 0 -6 0zM1276.7 329.7a3 3 0 1 0 6 0a3 3 0 1 0 -6 0zM1279.6 328.8a3 3 0 1 0 6 0a3 3 0 1 0 -6 0zM1282.6 328.6a3 3 0 1 0 6 0a3 3 0 1 0 -6 0zM1285.5 328.9a3 3 0 1 0 6 0a3 3 0 1 0 -6 0zM1288.4 329.6a3 3 0 1 0 6 0a3 3 0 1 0 -6 0zM1291.3 330.7a3 3 0 1 0 6 0a3 3 0 1 0 -6 0zM1294.3 331.8a3 3 0 1 0 6 0a3 3 0 1 0 -6 0zM1297.2 332.9a3 3 0 1 0 6 0a3 3 0 1 0 -6 0zM1300.1 334a3 3 0 1 0 6 0a3 3 0 1 0 -6 0zM1303.1 334.9a3 3 0 1 0 6 0a3 3 0 1 0 -6 0zM1306 335.8a3 3 0 1 0 6 0a3 3 0 1 0 -6 0zM1308.9 336.7a3 3 0 1 0 6 0a3 3 0 1 0 -6 0zM1311.9 337.6a3 3 0 1 0 6 0a3 3 0 1 0 -6 0zM1314.8 338.4a3 3 0 1 0 6 0a3 3 0 1 0 -6 0zM1317.7 339.1a3 3 0 1 0 6 0a3 3 0 1 0 -6 0zM1320.6 339.8a3 3 0 1 0 6 0a3 3 0 1 0 -6 0zM1323.6 341a3 3 0 1 0 6 0a3 3 0 1 0 -6 0zM1326.5 342.5a3 3 0 1 0 6 0a3 3 0 1 0 -6 0zM1329.4 344a3 3 0 1 0 6 0a3 3 0 1 0 -6 0zM1332.4 345.5a3 3 0 1 0 6 0a3 3 0 1 0 -6 0zM1335.3 347.3a3 3 0 1 0 6 0a3 3 0 1 0 -6 0zM1338.2 349.5a3 3 0 1 0 6 0a3 3 0 1 0 -6 0zM1341.2 351.7a3 3 0 1 0 6 0a3 3 0 1 0 -6 0zM1344.1 353.7a3 3 0 1 0 6 0a3 3 0 1 0 -6 0zM1347 355.2a3 3 0 1 0 6 0a3 3 0 1 0 -6 0zM1349.9 356.6a3 3 0 1 0 6 0a3 3 0 1 0 -6 0zM1352.9 358.1a3 3 0 1 0 6 0a3 3 0 1 0 -6 0zM1355.8 355.9a3 3 0 1 0 6 0a3 3 0 1 0 -6 0zM1358.7 353.5a3 3 0 1 0 6 0a3 3 0 1 0 -6 0zM1361.7 350.5a3 3 0 1 0 6 0a3 3 0 1 0 -6 0zM1364.6 346.9a3 3 0 1 0 6 0a3 3 0 1 0 -6 0zM1367.5 341.5a3 3 0 1 0 6 0a3 3 0 1 0 -6 0zM1370.5 335.6a3 3 0 1 0 6 0a3 3 0 1 0 -6 0zM1373.4 330.2a3 3 0 1 0 6 0a3 3 0 1 0 -6 0zM1376.3 326a3 3 0 1 0 6 0a3 3 0 1 0 -6 0zM1379.2 323.3a3 3 0 1 0 6 0a3 3 0 1 0 -6 0zM1382.2 323.7a3 3 0 1 0 6 0a3 3 0 1 0 -6 0zM1385.1 327.4a3 3 0 1 0 6 0a3 3 0 1 0 -6 0zM1388 333.3a3 3 0 1 0 6 0a3 3 0 1 0 -6 0zM1391 339.7a3 3 0 1 0 6 0a3 3 0 1 0 -6 0zM1393.9 343.6a3 3 0 1 0 6 0a3 3 0 1 0 -6 0zM1396.8 345.9a3 3 0 1 0 6 0a3 3 0 1 0 -6 0zM1399.8 343a3 3 0 1 0 6 0a3 3 0 1 0 -6 0zM1402.7 340.1a3 3 0 1 0 6 0a3 3 0 1 0 -6 0zM1405.6 336.5a3 3 0 1 0 6 0a3 3 0 1 0 -6 0zM1408.5 332.8a3 3 0 1 0 6 0a3 3 0 1 0 -6 0zM1411.5 329.6a3 3 0 1 0 6 0a3 3 0 1 0 -6 0zM1414.4 327.4a3 3 0 1 0 6 0a3 3 0 1 0 -6 0zM1417.3 326.1a3 3 0 1 0 6 0a3 3 0 1 0 -6 0zM1420.3 326.7a3 3 0 1 0 6 0a3 3 0 1 0 -6 0zM1423.2 328.2a3 3 0 1 0 6 0a3 3 0 1 0 -6 0zM1426.1 329.8a3 3 0 1 0 6 0a3 3 0 1 0 -6 0zM1429.1 332.3a3 3 0 1 0 6 0a3 3 0 1 0 -6 0zM1432 334.7a3 3 0 1 0 6 0a3 3 0 1 0 -6 0zM1434.9 337.1a3 3 0 1 0 6 0a3 3 0 1 0 -6 0zM1437.8 339.5a3 3 0 1 0 6 0a3 3 0 1 0 -6 0zM1440.8 341.5a3 3 0 1 0 6 0a3 3 0 1 0 -6 0zM1443.7 342.3a3 3 0 1 0 6 0a3 3 0 1 0 -6 0zM1446.6 343a3 3 0 1 0 6 0a3 3 0 1 0 -6 0zM1449.6 343.8a3 3 0 1 0 6 0a3 3 0 1 0 -6 0zM1452.5 344.5a3 3 0 1 0 6 0a3 3 0 1 0 -6 0zM1455.4 344.7a3 3 0 1 0 6 0a3 3 0 1 0 -6 0zM1458.4 344a3 3 0 1 0 6 0a3 3 0 1 0 -6 0zM1461.3 343.2a3 3 0 1 0 6 0a3 3 0 1 0 -6 0zM1464.2 342.4a3 3 0 1 0 6 0a3 3 0 1 0 -6 0zM1467.1 340.8a3 3 0 1 0 6 0a3 3 0 1 0 -6 0z" fill="#e0384d"/>
<path d="M885.7 332.7L1370 332.7L1380.2 336.5L1392.3 341.4L1404.4 346.2L1416.4 351L1426.1 352.2L1435.7 348.6L1443 341.4L1450.2 335.3L1457.4 332.9L1464.7 331.7L1471.5 332.2" fill="none" stroke="#3b66ba" stroke-width="2.2" stroke-linejoin="round"/>
<path d="M911.6 328.7L915.1 334.9L908.1 334.9zM937.9 328.7L941.4 334.9L934.4 334.9zM964.5 328.7L968 334.9L961 334.9zM987.4 328.7L990.9 334.9L983.9 334.9zM1004.8 328.7L1008.3 334.9L1001.3 334.9zM1021.8 328.7L1025.3 334.9L1018.3 334.9zM1038.8 328.7L1042.3 334.9L1035.3 334.9zM1055.8 328.7L1059.3 334.9L1052.3 334.9zM1070.7 328.7L1074.2 334.9L1067.2 334.9zM1081.7 328.7L1085.2 334.9L1078.2 334.9zM1092.1 328.7L1095.6 334.9L1088.6 334.9zM1101.7 328.7L1105.2 334.9L1098.2 334.9zM1110.7 328.7L1114.2 334.9L1107.2 334.9zM1119.7 328.7L1123.2 334.9L1116.2 334.9zM1128.3 328.7L1131.8 334.9L1124.8 334.9zM1135.7 328.7L1139.2 334.9L1132.2 334.9zM1142.1 328.7L1145.6 334.9L1138.6 334.9zM1148 328.7L1151.5 334.9L1144.5 334.9zM1153.4 328.7L1156.9 334.9L1149.9 334.9zM1158.3 328.7L1161.8 334.9L1154.8 334.9zM1162.8 328.7L1166.3 334.9L1159.3 334.9zM1166.9 328.7L1170.4 334.9L1163.4 334.9zM1170.6 328.7L1174.1 334.9L1167.1 334.9zM1174 328.7L1177.5 334.9L1170.5 334.9zM1177.2 328.7L1180.7 334.9L1173.7 334.9zM1180.1 328.7L1183.6 334.9L1176.6 334.9zM1183 328.7L1186.5 334.9L1179.5 334.9zM1186 328.7L1189.5 334.9L1182.5 334.9zM1188.9 328.7L1192.4 334.9L1185.4 334.9zM1191.8 328.7L1195.3 334.9L1188.3 334.9zM1194.8 328.7L1198.3 334.9L1191.3 334.9zM1197.7 328.7L1201.2 334.9L1194.2 334.9zM1200.6 328.7L1204.1 334.9L1197.1 334.9zM1203.5 328.7L1207 334.9L1200 334.9zM1206.5 328.7L1210 334.9L1203 334.9zM1209.4 328.7L1212.9 334.9L1205.9 334.9zM1212.3 328.7L1215.8 334.9L1208.8 334.9zM1215.3 328.7L1218.8 334.9L1211.8 334.9zM1218.2 328.7L1221.7 334.9L1214.7 334.9zM1221.1 328.7L1224.6 334.9L1217.6 334.9zM1224.1 328.7L1227.6 334.9L1220.6 334.9zM1227 328.7L1230.5 334.9L1223.5 334.9zM1229.9 328.7L1233.4 334.9L1226.4 334.9zM1232.8 328.7L1236.3 334.9L1229.3 334.9zM1235.8 328.7L1239.3 334.9L1232.3 334.9zM1238.7 328.7L1242.2 334.9L1235.2 334.9zM1241.6 328.7L1245.1 334.9L1238.1 334.9zM1244.6 328.7L1248.1 334.9L1241.1 334.9zM1247.5 328.7L1251 334.9L1244 334.9zM1250.4 328.7L1253.9 334.9L1246.9 334.9zM1253.4 328.7L1256.9 334.9L1249.9 334.9zM1256.3 328.7L1259.8 334.9L1252.8 334.9zM1259.2 328.7L1262.7 334.9L1255.7 334.9zM1262.1 328.7L1265.6 334.9L1258.6 334.9zM1265.1 328.7L1268.6 334.9L1261.6 334.9zM1268 328.7L1271.5 334.9L1264.5 334.9zM1270.9 328.7L1274.4 334.9L1267.4 334.9zM1273.9 328.7L1277.4 334.9L1270.4 334.9zM1276.8 328.7L1280.3 334.9L1273.3 334.9zM1279.7 328.7L1283.2 334.9L1276.2 334.9zM1282.7 328.7L1286.2 334.9L1279.2 334.9zM1285.6 328.7L1289.1 334.9L1282.1 334.9zM1288.5 328.7L1292 334.9L1285 334.9zM1291.4 328.7L1294.9 334.9L1287.9 334.9zM1294.4 328.7L1297.9 334.9L1290.9 334.9zM1297.3 328.7L1300.8 334.9L1293.8 334.9zM1300.2 328.7L1303.7 334.9L1296.7 334.9zM1303.2 328.7L1306.7 334.9L1299.7 334.9zM1306.1 328.7L1309.6 334.9L1302.6 334.9zM1309 328.7L1312.5 334.9L1305.5 334.9zM1312 328.7L1315.5 334.9L1308.5 334.9zM1314.9 328.7L1318.4 334.9L1311.4 334.9zM1317.8 328.7L1321.3 334.9L1314.3 334.9zM1320.7 328.7L1324.2 334.9L1317.2 334.9zM1323.7 328.7L1327.2 334.9L1320.2 334.9zM1326.6 328.7L1330.1 334.9L1323.1 334.9zM1329.5 328.7L1333 334.9L1326 334.9zM1332.5 328.7L1336 334.9L1329 334.9zM1335.4 328.7L1338.9 334.9L1331.9 334.9zM1338.3 328.7L1341.8 334.9L1334.8 334.9zM1341.3 328.7L1344.8 334.9L1337.8 334.9zM1344.2 328.7L1347.7 334.9L1340.7 334.9zM1347.1 328.7L1350.6 334.9L1343.6 334.9zM1350 328.7L1353.5 334.9L1346.5 334.9zM1353 328.7L1356.5 334.9L1349.5 334.9zM1355.9 328.7L1359.4 334.9L1352.4 334.9zM1358.8 328.7L1362.3 334.9L1355.3 334.9zM1361.8 328.7L1365.3 334.9L1358.3 334.9zM1364.7 328.7L1368.2 334.9L1361.2 334.9zM1367.6 328.7L1371.1 334.9L1364.1 334.9zM1370.6 328.9L1374.1 335.1L1367.1 335.1zM1373.5 330L1377 336.2L1370 336.2zM1376.4 331.1L1379.9 337.3L1372.9 337.3zM1379.3 332.2L1382.8 338.4L1375.8 338.4zM1382.3 333.3L1385.8 339.5L1378.8 339.5zM1385.2 334.5L1388.7 340.7L1381.7 340.7zM1388.1 335.7L1391.6 341.9L1384.6 341.9zM1391.1 336.9L1394.6 343.1L1387.6 343.1zM1394 338L1397.5 344.3L1390.5 344.3zM1396.9 339.2L1400.4 345.4L1393.4 345.4zM1399.9 340.4L1403.4 346.6L1396.4 346.6zM1402.8 341.5L1406.3 347.8L1399.3 347.8zM1405.7 342.7L1409.2 348.9L1402.2 348.9zM1408.6 343.9L1412.1 350.1L1405.1 350.1zM1411.6 345L1415.1 351.3L1408.1 351.3zM1414.5 346.2L1418 352.4L1411 352.4zM1417.4 347.1L1420.9 353.3L1413.9 353.3zM1420.4 347.5L1423.9 353.7L1416.9 353.7zM1423.3 347.8L1426.8 354.1L1419.8 354.1zM1426.2 348.1L1429.7 354.4L1422.7 354.4zM1429.2 347L1432.7 353.3L1425.7 353.3zM1432.1 345.9L1435.6 352.2L1428.6 352.2zM1435 344.8L1438.5 351.1L1431.5 351.1zM1437.9 342.4L1441.4 348.6L1434.4 348.6zM1440.9 339.5L1444.4 345.7L1437.4 345.7zM1443.8 336.7L1447.3 342.9L1440.3 342.9zM1446.7 334.2L1450.2 340.4L1443.2 340.4zM1449.7 331.7L1453.2 338L1446.2 338zM1452.6 330.5L1456.1 336.7L1449.1 336.7zM1455.5 329.5L1459 335.7L1452 335.7zM1458.5 328.7L1462 334.9L1455 334.9zM1461.4 328.2L1464.9 334.5L1457.9 334.5zM1464.3 327.7L1467.8 334L1460.8 334zM1467.2 327.9L1470.7 334.1L1463.7 334.1zM1470.2 328.1L1473.7 334.3L1466.7 334.3z" fill="#3b66ba"/>
<path d="M885.7 332.7L1075 332.7L1095 331.7L1150 331.1L1160 330.5L1168 329.4L1175 327L1185 322.6L1192.2 310.6L1197 299.7L1201.8 285.3L1205.4 273.2L1209 258.7L1212.7 245.5L1216.3 237L1221.1 232.9L1225.9 238.2L1230.7 247.9L1235.6 255.1L1240.4 261.1L1246.4 264.8L1254.9 265.2L1263.3 264.8L1266.9 269.6L1269.3 276.8L1273 244.3L1275.4 195L1281.4 122.2L1286.2 195L1287.4 214L1290.5 274.4L1293 340L1297.1 358.2L1300.7 303.3L1304.3 208L1305.5 195L1312.7 60.7L1316.4 70.3L1319.2 116.1L1322.4 165.6L1324.8 195L1326 216.5L1329.6 269.6L1333.2 325L1336.8 358.2L1340.4 390L1343.6 401.6L1347.7 382L1352.5 358.2L1358.5 348.6L1363.3 358.2L1367 372.7L1370.6 387L1375.4 406.5L1380.2 421L1385.1 427L1392.3 427L1400.8 433L1405.6 423.3L1410.4 414.9L1418.8 416L1423.7 413.7L1428.5 404L1435.7 394.4L1443 401.6L1452.6 406.5L1462.2 408.9L1471.5 410" fill="none" stroke="#40a767" stroke-width="2.2" stroke-linejoin="round"/>
<path d="M911.6 336.7L915.1 330.5L908.1 330.5zM937.9 336.7L941.4 330.5L934.4 330.5zM964.5 336.7L968 330.5L961 330.5zM987.4 336.7L990.9 330.5L983.9 330.5zM1004.8 336.7L1008.3 330.5L1001.3 330.5zM1021.8 336.7L1025.3 330.5L1018.3 330.5zM1038.8 336.7L1042.3 330.5L1035.3 330.5zM1055.8 336.7L1059.3 330.5L1052.3 330.5zM1070.7 336.7L1074.2 330.5L1067.2 330.5zM1081.7 336.4L1085.2 330.2L1078.2 330.2zM1092.1 335.9L1095.6 329.6L1088.6 329.6zM1101.7 335.7L1105.2 329.4L1098.2 329.4zM1110.7 335.6L1114.2 329.3L1107.2 329.3zM1119.7 335.5L1123.2 329.2L1116.2 329.2zM1128.3 335.4L1131.8 329.1L1124.8 329.1zM1135.7 335.3L1139.2 329.1L1132.2 329.1zM1142.1 335.2L1145.6 329L1138.6 329zM1148 335.1L1151.5 328.9L1144.5 328.9zM1153.4 334.9L1156.9 328.7L1149.9 328.7zM1158.3 334.6L1161.8 328.4L1154.8 328.4zM1162.8 334.1L1166.3 327.9L1159.3 327.9zM1166.9 333.6L1170.4 327.3L1163.4 327.3zM1170.6 332.5L1174.1 326.3L1167.1 326.3zM1174 331.4L1177.5 325.1L1170.5 325.1zM1177.2 330.1L1180.7 323.8L1173.7 323.8zM1180.1 328.8L1183.6 322.6L1176.6 322.6zM1183 327.5L1186.5 321.3L1179.5 321.3zM1186 325L1189.5 318.8L1182.5 318.8zM1188.9 320.1L1192.4 313.9L1185.4 313.9zM1191.8 315.3L1195.3 309L1188.3 309zM1194.8 308.8L1198.3 302.6L1191.3 302.6zM1197.7 301.7L1201.2 295.5L1194.2 295.5zM1200.6 292.9L1204.1 286.7L1197.1 286.7zM1203.5 283.5L1207 277.2L1200 277.2zM1206.5 272.9L1210 266.7L1203 266.7zM1209.4 261.3L1212.9 255.1L1205.9 255.1zM1212.3 250.8L1215.8 244.6L1208.8 244.6zM1215.3 243.5L1218.8 237.3L1211.8 237.3zM1218.2 239.4L1221.7 233.2L1214.7 233.2zM1221.1 236.9L1224.6 230.7L1217.6 230.7zM1224.1 240.2L1227.6 234L1220.6 234zM1227 244.4L1230.5 238.2L1223.5 238.2zM1229.9 250.3L1233.4 244.1L1226.4 244.1zM1232.8 255.1L1236.3 248.8L1229.3 248.8zM1235.8 259.3L1239.3 253.1L1232.3 253.1zM1238.7 263L1242.2 256.8L1235.2 256.8zM1241.6 265.9L1245.1 259.7L1238.1 259.7zM1244.6 267.7L1248.1 261.5L1241.1 261.5zM1247.5 268.9L1251 262.6L1244 262.6zM1250.4 269L1253.9 262.8L1246.9 262.8zM1253.4 269.2L1256.9 262.9L1249.9 262.9zM1256.3 269.2L1259.8 262.9L1252.8 262.9zM1259.2 269L1262.7 262.8L1255.7 262.8zM1262.1 268.9L1265.6 262.6L1258.6 262.6zM1265.1 271.2L1268.6 265L1261.6 265zM1268 276.9L1271.5 270.7L1264.5 270.7zM1270.9 266.5L1274.4 260.3L1267.4 260.3zM1273.9 230.7L1277.4 224.4L1270.4 224.4zM1276.8 182.2L1280.3 175.9L1273.3 175.9zM1279.7 146.6L1283.2 140.4L1276.2 140.4zM1282.7 145.2L1286.2 139L1279.2 139zM1285.6 189.6L1289.1 183.4L1282.1 183.4zM1288.5 239.7L1292 233.4L1285 233.4zM1291.4 303.1L1294.9 296.9L1287.9 296.9zM1294.4 350.1L1297.9 343.9L1290.9 343.9zM1297.3 359.2L1300.8 352.9L1293.8 352.9zM1300.2 314.5L1303.7 308.3L1296.7 308.3zM1303.2 242.2L1306.7 236L1299.7 236zM1306.1 188L1309.6 181.8L1302.6 181.8zM1309 133.4L1312.5 127.1L1305.5 127.1zM1312 78.7L1315.5 72.5L1308.5 72.5zM1314.9 70.4L1318.4 64.2L1311.4 64.2zM1317.8 97.4L1321.3 91.2L1314.3 91.2zM1320.7 143.9L1324.2 137.7L1317.2 137.7zM1323.7 185.2L1327.2 179L1320.2 179zM1326.6 229.4L1330.1 223.1L1323.1 223.1zM1329.5 272.6L1333 266.4L1326 266.4zM1332.5 317.6L1336 311.4L1329 311.4zM1335.4 349.2L1338.9 343L1331.9 343zM1338.3 375.7L1341.8 369.4L1334.8 369.4zM1341.3 397.1L1344.8 390.9L1337.8 390.9zM1344.2 402.9L1347.7 396.6L1340.7 396.6zM1347.1 388.8L1350.6 382.6L1343.6 382.6zM1350 374.4L1353.5 368.2L1346.5 368.2zM1353 361.5L1356.5 355.2L1349.5 355.2zM1355.9 356.8L1359.4 350.6L1352.4 350.6zM1358.8 353.3L1362.3 347.1L1355.3 347.1zM1361.8 359.1L1365.3 352.9L1358.3 352.9zM1364.7 367.7L1368.2 361.4L1361.2 361.4zM1367.6 379.2L1371.1 373L1364.1 373zM1370.6 390.8L1374.1 384.6L1367.1 384.6zM1373.5 402.7L1377 396.5L1370 396.5zM1376.4 413.6L1379.9 407.3L1372.9 407.3zM1379.3 422.4L1382.8 416.2L1375.8 416.2zM1382.3 427.6L1385.8 421.3L1378.8 421.3zM1385.2 431L1388.7 424.8L1381.7 424.8zM1388.1 431L1391.6 424.8L1384.6 424.8zM1391.1 431L1394.6 424.8L1387.6 424.8zM1394 432.2L1397.5 426L1390.5 426zM1396.9 434.3L1400.4 428.1L1393.4 428.1zM1399.9 436.4L1403.4 430.1L1396.4 430.1zM1402.8 433L1406.3 426.8L1399.3 426.8zM1405.7 427.1L1409.2 420.9L1402.2 420.9zM1408.6 422L1412.1 415.8L1405.1 415.8zM1411.6 419.1L1415.1 412.8L1408.1 412.8zM1414.5 419.5L1418 413.2L1411 413.2zM1417.4 419.8L1420.9 413.6L1413.9 413.6zM1420.4 419.3L1423.9 413.1L1416.9 413.1zM1423.3 417.9L1426.8 411.7L1419.8 411.7zM1426.2 412.6L1429.7 406.4L1422.7 406.4zM1429.2 407.2L1432.7 400.9L1425.7 400.9zM1432.1 403.3L1435.6 397L1428.6 397zM1435 399.3L1438.5 393.1L1431.5 393.1zM1437.9 400.6L1441.4 394.4L1434.4 394.4zM1440.9 403.5L1444.4 397.3L1437.4 397.3zM1443.8 406L1447.3 399.8L1440.3 399.8zM1446.7 407.5L1450.2 401.3L1443.2 401.3zM1449.7 409L1453.2 402.8L1446.2 402.8zM1452.6 410.5L1456.1 404.3L1449.1 404.3zM1455.5 411.3L1459 405L1452 405zM1458.5 412L1462 405.8L1455 405.8zM1461.4 412.7L1464.9 406.5L1457.9 406.5zM1464.3 413.2L1467.8 406.9L1460.8 406.9zM1467.2 413.5L1470.7 407.3L1463.7 407.3zM1470.2 413.9L1473.7 407.6L1466.7 407.6z" fill="#40a767"/>
<path d="M885.7 332.7L1250 332.7L1258 331L1269.3 326.2L1283.8 321.4L1293 318.5L1301.9 317.8L1312.7 321.4L1320 328.7L1324.8 332.7L1332 346.2L1339.3 358.2L1346.5 367.9L1353.7 371.5L1361 366.7L1365.8 358.2L1369.4 346.2L1373 334.1L1376.6 322.6L1380.2 313L1385.1 302.1L1390 296.5L1395.4 294.4L1400 297.5L1404.4 303.3L1410.4 315.4L1415.2 328.7L1418.8 337L1423 343L1428 345.5L1435.7 340.1L1443 336.5L1452.6 341.3L1459.8 348.6L1467 351L1471.5 348.6" fill="none" stroke="#9a6bc6" stroke-width="2.2" stroke-linejoin="round"/>
<path d="M911.6 328.6L915.1 332.7L911.6 336.8L908.1 332.7zM937.9 328.6L941.4 332.7L937.9 336.8L934.4 332.7zM964.5 328.6L968 332.7L964.5 336.8L961 332.7zM987.4 328.6L990.9 332.7L987.4 336.8L983.9 332.7zM1004.8 328.6L1008.3 332.7L1004.8 336.8L1001.3 332.7zM1021.8 328.6L1025.3 332.7L1021.8 336.8L1018.3 332.7zM1038.8 328.6L1042.3 332.7L1038.8 336.8L1035.3 332.7zM1055.8 328.6L1059.3 332.7L1055.8 336.8L1052.3 332.7zM1070.7 328.6L1074.2 332.7L1070.7 336.8L1067.2 332.7zM1081.7 328.6L1085.2 332.7L1081.7 336.8L1078.2 332.7zM1092.1 328.6L1095.6 332.7L1092.1 336.8L1088.6 332.7zM1101.7 328.6L1105.2 332.7L1101.7 336.8L1098.2 332.7zM1110.7 328.6L1114.2 332.7L1110.7 336.8L1107.2 332.7zM1119.7 328.6L1123.2 332.7L1119.7 336.8L1116.2 332.7zM1128.3 328.6L1131.8 332.7L1128.3 336.8L1124.8 332.7zM1135.7 328.6L1139.2 332.7L1135.7 336.8L1132.2 332.7zM1142.1 328.6L1145.6 332.7L1142.1 336.8L1138.6 332.7zM1148 328.6L1151.5 332.7L1148 336.8L1144.5 332.7zM1153.4 328.6L1156.9 332.7L1153.4 336.8L1149.9 332.7zM1158.3 328.6L1161.8 332.7L1158.3 336.8L1154.8 332.7zM1162.8 328.6L1166.3 332.7L1162.8 336.8L1159.3 332.7zM1166.9 328.6L1170.4 332.7L1166.9 336.8L1163.4 332.7zM1170.6 328.6L1174.1 332.7L1170.6 336.8L1167.1 332.7zM1174 328.6L1177.5 332.7L1174 336.8L1170.5 332.7zM1177.2 328.6L1180.7 332.7L1177.2 336.8L1173.7 332.7zM1180.1 328.6L1183.6 332.7L1180.1 336.8L1176.6 332.7zM1183 328.6L1186.6 332.7L1183 336.8L1179.5 332.7zM1186 328.6L1189.5 332.7L1186 336.8L1182.4 332.7zM1188.9 328.6L1192.4 332.7L1188.9 336.8L1185.3 332.7zM1191.8 328.6L1195.4 332.7L1191.8 336.8L1188.3 332.7zM1194.8 328.6L1198.3 332.7L1194.8 336.8L1191.2 332.7zM1197.7 328.6L1201.2 332.7L1197.7 336.8L1194.1 332.7zM1200.6 328.6L1204.2 332.7L1200.6 336.8L1197.1 332.7zM1203.5 328.6L1207.1 332.7L1203.5 336.8L1200 332.7zM1206.5 328.6L1210 332.7L1206.5 336.8L1202.9 332.7zM1209.4 328.6L1212.9 332.7L1209.4 336.8L1205.9 332.7zM1212.3 328.6L1215.9 332.7L1212.3 336.8L1208.8 332.7zM1215.3 328.6L1218.8 332.7L1215.3 336.8L1211.7 332.7zM1218.2 328.6L1221.7 332.7L1218.2 336.8L1214.6 332.7zM1221.1 328.6L1224.7 332.7L1221.1 336.8L1217.6 332.7zM1224.1 328.6L1227.6 332.7L1224.1 336.8L1220.5 332.7zM1227 328.6L1230.5 332.7L1227 336.8L1223.4 332.7zM1229.9 328.6L1233.5 332.7L1229.9 336.8L1226.4 332.7zM1232.8 328.6L1236.4 332.7L1232.8 336.8L1229.3 332.7zM1235.8 328.6L1239.3 332.7L1235.8 336.8L1232.2 332.7zM1238.7 328.6L1242.2 332.7L1238.7 336.8L1235.2 332.7zM1241.6 328.6L1245.2 332.7L1241.6 336.8L1238.1 332.7zM1244.6 328.6L1248.1 332.7L1244.6 336.8L1241 332.7zM1247.5 328.6L1251 332.7L1247.5 336.8L1243.9 332.7zM1250.4 328.5L1254 332.6L1250.4 336.7L1246.9 332.6zM1253.4 327.9L1256.9 332L1253.4 336.1L1249.8 332zM1256.3 327.2L1259.8 331.4L1256.3 335.5L1252.7 331.4zM1259.2 326.4L1262.8 330.5L1259.2 334.6L1255.7 330.5zM1262.1 325.1L1265.7 329.2L1262.1 333.4L1258.6 329.2zM1265.1 323.9L1268.6 328L1265.1 332.1L1261.5 328zM1268 322.6L1271.5 326.8L1268 330.9L1264.5 326.8zM1270.9 321.5L1274.5 325.7L1270.9 329.8L1267.4 325.7zM1273.9 320.6L1277.4 324.7L1273.9 328.8L1270.3 324.7zM1276.8 319.6L1280.3 323.7L1276.8 327.8L1273.2 323.7zM1279.7 318.6L1283.3 322.8L1279.7 326.9L1276.2 322.8zM1282.7 317.7L1286.2 321.8L1282.7 325.9L1279.1 321.8zM1285.6 316.7L1289.1 320.8L1285.6 325L1282 320.8zM1288.5 315.8L1292.1 319.9L1288.5 324L1285 319.9zM1291.4 314.9L1295 319L1291.4 323.1L1287.9 319zM1294.4 314.3L1297.9 318.4L1294.4 322.5L1290.8 318.4zM1297.3 314L1300.8 318.2L1297.3 322.3L1293.8 318.2zM1300.2 313.8L1303.8 317.9L1300.2 322.1L1296.7 317.9zM1303.2 314.1L1306.7 318.2L1303.2 322.3L1299.6 318.2zM1306.1 315.1L1309.6 319.2L1306.1 323.3L1302.5 319.2zM1309 316.1L1312.6 320.2L1309 324.3L1305.5 320.2zM1312 317L1315.5 321.2L1312 325.3L1308.4 321.2zM1314.9 319.5L1318.4 323.6L1314.9 327.7L1311.3 323.6zM1317.8 322.4L1321.4 326.5L1317.8 330.6L1314.3 326.5zM1320.7 325.2L1324.3 329.3L1320.7 333.4L1317.2 329.3zM1323.7 327.6L1327.2 331.8L1323.7 335.9L1320.1 331.8zM1326.6 332L1330.1 336.1L1326.6 340.2L1323.1 336.1zM1329.5 337.4L1333.1 341.6L1329.5 345.7L1326 341.6zM1332.5 342.8L1336 347L1332.5 351.1L1328.9 347zM1335.4 347.6L1338.9 351.8L1335.4 355.9L1331.8 351.8zM1338.3 352.5L1341.9 356.6L1338.3 360.7L1334.8 356.6zM1341.3 356.7L1344.8 360.8L1341.3 365L1337.7 360.8zM1344.2 360.7L1347.7 364.8L1344.2 368.9L1340.6 364.8zM1347.1 364.1L1350.7 368.2L1347.1 372.3L1343.6 368.2zM1350 365.5L1353.6 369.7L1350 373.8L1346.5 369.7zM1353 367L1356.5 371.1L1353 375.3L1349.4 371.1zM1355.9 365.9L1359.4 370.1L1355.9 374.2L1352.4 370.1zM1358.8 364L1362.4 368.1L1358.8 372.3L1355.3 368.1zM1361.8 361.2L1365.3 365.4L1361.8 369.5L1358.2 365.4zM1364.7 356L1368.2 360.2L1364.7 364.3L1361.1 360.2zM1367.6 348L1371.2 352.1L1367.6 356.3L1364.1 352.1zM1370.6 338.2L1374.1 342.3L1370.6 346.5L1367 342.3zM1373.5 328.4L1377 332.6L1373.5 336.7L1369.9 332.6zM1376.4 319.1L1380 323.2L1376.4 327.3L1372.9 323.2zM1379.3 311.2L1382.9 315.3L1379.3 319.4L1375.8 315.3zM1382.3 304.3L1385.8 308.4L1382.3 312.5L1378.7 308.4zM1385.2 297.9L1388.7 302L1385.2 306.1L1381.7 302zM1388.1 294.5L1391.7 298.6L1388.1 302.8L1384.6 298.6zM1391.1 292L1394.6 296.1L1391.1 300.2L1387.5 296.1zM1394 290.8L1397.5 294.9L1394 299.1L1390.4 294.9zM1396.9 291.3L1400.5 295.4L1396.9 299.5L1393.4 295.4zM1399.9 293.3L1403.4 297.4L1399.9 301.5L1396.3 297.4zM1402.8 297L1406.3 301.2L1402.8 305.3L1399.2 301.2zM1405.7 301.8L1409.3 305.9L1405.7 310.1L1402.2 305.9zM1408.6 307.7L1412.2 311.9L1408.6 316L1405.1 311.9zM1411.6 314.5L1415.1 318.6L1411.6 322.8L1408 318.6zM1414.5 322.6L1418 326.8L1414.5 330.9L1411 326.8zM1417.4 329.7L1421 333.8L1417.4 338L1413.9 333.8zM1420.4 335.1L1423.9 339.2L1420.4 343.4L1416.8 339.2zM1423.3 339L1426.8 343.1L1423.3 347.3L1419.7 343.1zM1426.2 340.5L1429.8 344.6L1426.2 348.7L1422.7 344.6zM1429.2 340.6L1432.7 344.7L1429.2 348.8L1425.6 344.7zM1432.1 338.5L1435.6 342.6L1432.1 346.8L1428.5 342.6zM1435 336.5L1438.6 340.6L1435 344.7L1431.5 340.6zM1437.9 334.9L1441.5 339L1437.9 343.1L1434.4 339zM1440.9 333.4L1444.4 337.6L1440.9 341.7L1437.3 337.6zM1443.8 332.8L1447.3 336.9L1443.8 341L1440.3 336.9zM1446.7 334.2L1450.3 338.4L1446.7 342.5L1443.2 338.4zM1449.7 335.7L1453.2 339.8L1449.7 344L1446.1 339.8zM1452.6 337.2L1456.1 341.3L1452.6 345.4L1449 341.3zM1455.5 340.1L1459.1 344.3L1455.5 348.4L1452 344.3zM1458.5 343.1L1462 347.2L1458.5 351.4L1454.9 347.2zM1461.4 345L1464.9 349.1L1461.4 353.2L1457.8 349.1zM1464.3 346L1467.9 350.1L1464.3 354.2L1460.8 350.1zM1467.2 346.7L1470.8 350.9L1467.2 355L1463.7 350.9zM1470.2 345.2L1473.7 349.3L1470.2 353.4L1466.6 349.3z" fill="#9a6bc6"/>
<path d="M885.7 332.7L1330 332.7L1344 330.5L1360 330.5L1375.4 330.5L1385.1 332.9L1394.7 337.7L1404.4 342.5L1416.4 347.4L1426 349.5L1435.7 349.8L1447.8 348.6L1455 343.8L1462.2 337.7L1471.5 332.9" fill="none" stroke="#b98a28" stroke-width="2.2" stroke-linejoin="round"/>
<path d="M907.6 332.7L913.8 329.2L913.8 336.2zM933.9 332.7L940.1 329.2L940.1 336.2zM960.5 332.7L966.7 329.2L966.7 336.2zM983.4 332.7L989.6 329.2L989.6 336.2zM1000.8 332.7L1007 329.2L1007 336.2zM1017.8 332.7L1024 329.2L1024 336.2zM1034.8 332.7L1041 329.2L1041 336.2zM1051.8 332.7L1058 329.2L1058 336.2zM1066.7 332.7L1072.9 329.2L1072.9 336.2zM1077.7 332.7L1083.9 329.2L1083.9 336.2zM1088.1 332.7L1094.3 329.2L1094.3 336.2zM1097.7 332.7L1103.9 329.2L1103.9 336.2zM1106.7 332.7L1112.9 329.2L1112.9 336.2zM1115.7 332.7L1121.9 329.2L1121.9 336.2zM1124.3 332.7L1130.5 329.2L1130.5 336.2zM1131.7 332.7L1137.9 329.2L1137.9 336.2zM1138.1 332.7L1144.3 329.2L1144.3 336.2zM1144 332.7L1150.2 329.2L1150.2 336.2zM1149.4 332.7L1155.6 329.2L1155.6 336.2zM1154.3 332.7L1160.5 329.2L1160.5 336.2zM1158.8 332.7L1165 329.2L1165 336.2zM1162.9 332.7L1169.1 329.2L1169.1 336.2zM1166.6 332.7L1172.8 329.2L1172.8 336.2zM1170 332.7L1176.2 329.2L1176.2 336.2zM1173.2 332.7L1179.4 329.2L1179.4 336.2zM1176.1 332.7L1182.3 329.2L1182.3 336.2zM1179 332.7L1185.2 329.2L1185.2 336.2zM1181.9 332.7L1188.2 329.2L1188.2 336.2zM1184.9 332.7L1191.1 329.2L1191.1 336.2zM1187.8 332.7L1194 329.2L1194 336.2zM1190.7 332.7L1197 329.2L1197 336.2zM1193.7 332.7L1199.9 329.2L1199.9 336.2zM1196.6 332.7L1202.8 329.2L1202.8 336.2zM1199.5 332.7L1205.7 329.2L1205.7 336.2zM1202.4 332.7L1208.7 329.2L1208.7 336.2zM1205.4 332.7L1211.6 329.2L1211.6 336.2zM1208.3 332.7L1214.5 329.2L1214.5 336.2zM1211.2 332.7L1217.5 329.2L1217.5 336.2zM1214.2 332.7L1220.4 329.2L1220.4 336.2zM1217.1 332.7L1223.3 329.2L1223.3 336.2zM1220 332.7L1226.3 329.2L1226.3 336.2zM1223 332.7L1229.2 329.2L1229.2 336.2zM1225.9 332.7L1232.1 329.2L1232.1 336.2zM1228.8 332.7L1235 329.2L1235 336.2zM1231.7 332.7L1238 329.2L1238 336.2zM1234.7 332.7L1240.9 329.2L1240.9 336.2zM1237.6 332.7L1243.8 329.2L1243.8 336.2zM1240.5 332.7L1246.8 329.2L1246.8 336.2zM1243.5 332.7L1249.7 329.2L1249.7 336.2zM1246.4 332.7L1252.6 329.2L1252.6 336.2zM1249.3 332.7L1255.6 329.2L1255.6 336.2zM1252.3 332.7L1258.5 329.2L1258.5 336.2zM1255.2 332.7L1261.4 329.2L1261.4 336.2zM1258.1 332.7L1264.3 329.2L1264.3 336.2zM1261 332.7L1267.3 329.2L1267.3 336.2zM1264 332.7L1270.2 329.2L1270.2 336.2zM1266.9 332.7L1273.1 329.2L1273.1 336.2zM1269.8 332.7L1276.1 329.2L1276.1 336.2zM1272.8 332.7L1279 329.2L1279 336.2zM1275.7 332.7L1281.9 329.2L1281.9 336.2zM1278.6 332.7L1284.9 329.2L1284.9 336.2zM1281.6 332.7L1287.8 329.2L1287.8 336.2zM1284.5 332.7L1290.7 329.2L1290.7 336.2zM1287.4 332.7L1293.6 329.2L1293.6 336.2zM1290.3 332.7L1296.6 329.2L1296.6 336.2zM1293.3 332.7L1299.5 329.2L1299.5 336.2zM1296.2 332.7L1302.4 329.2L1302.4 336.2zM1299.1 332.7L1305.4 329.2L1305.4 336.2zM1302.1 332.7L1308.3 329.2L1308.3 336.2zM1305 332.7L1311.2 329.2L1311.2 336.2zM1307.9 332.7L1314.2 329.2L1314.2 336.2zM1310.9 332.7L1317.1 329.2L1317.1 336.2zM1313.8 332.7L1320 329.2L1320 336.2zM1316.7 332.7L1322.9 329.2L1322.9 336.2zM1319.6 332.7L1325.9 329.2L1325.9 336.2zM1322.6 332.7L1328.8 329.2L1328.8 336.2zM1325.5 332.7L1331.7 329.2L1331.7 336.2zM1328.4 332.3L1334.7 328.8L1334.7 335.8zM1331.4 331.9L1337.6 328.4L1337.6 335.4zM1334.3 331.4L1340.5 327.9L1340.5 334.9zM1337.2 330.9L1343.5 327.4L1343.5 334.4zM1340.2 330.5L1346.4 327L1346.4 334zM1343.1 330.5L1349.3 327L1349.3 334zM1346 330.5L1352.2 327L1352.2 334zM1348.9 330.5L1355.2 327L1355.2 334zM1351.9 330.5L1358.1 327L1358.1 334zM1354.8 330.5L1361 327L1361 334zM1357.7 330.5L1364 327L1364 334zM1360.7 330.5L1366.9 327L1366.9 334zM1363.6 330.5L1369.8 327L1369.8 334zM1366.5 330.5L1372.8 327L1372.8 334zM1369.5 330.5L1375.7 327L1375.7 334zM1372.4 330.7L1378.6 327.2L1378.6 334.2zM1375.3 331.5L1381.5 328L1381.5 335zM1378.2 332.2L1384.5 328.7L1384.5 335.7zM1381.2 333L1387.4 329.5L1387.4 336.5zM1384.1 334.4L1390.3 330.9L1390.3 337.9zM1387 335.9L1393.3 332.4L1393.3 339.4zM1390 337.3L1396.2 333.8L1396.2 340.8zM1392.9 338.8L1399.1 335.3L1399.1 342.3zM1395.8 340.2L1402.1 336.7L1402.1 343.7zM1398.8 341.7L1405 338.2L1405 345.2zM1401.7 343L1407.9 339.5L1407.9 346.5zM1404.6 344.2L1410.8 340.7L1410.8 347.7zM1407.5 345.4L1413.8 341.9L1413.8 348.9zM1410.5 346.6L1416.7 343.1L1416.7 350.1zM1413.4 347.6L1419.6 344.1L1419.6 351.1zM1416.3 348.3L1422.6 344.8L1422.6 351.8zM1419.3 348.9L1425.5 345.4L1425.5 352.4zM1422.2 349.5L1428.4 346L1428.4 353zM1425.1 349.6L1431.4 346.1L1431.4 353.1zM1428.1 349.7L1434.3 346.2L1434.3 353.2zM1431 349.8L1437.2 346.3L1437.2 353.3zM1433.9 349.6L1440.1 346.1L1440.1 353.1zM1436.8 349.3L1443.1 345.8L1443.1 352.8zM1439.8 349L1446 345.5L1446 352.5zM1442.7 348.7L1448.9 345.2L1448.9 352.2zM1445.6 347.4L1451.9 343.9L1451.9 350.9zM1448.6 345.4L1454.8 341.9L1454.8 348.9zM1451.5 343.4L1457.7 339.9L1457.7 346.9zM1454.4 340.9L1460.7 337.4L1460.7 344.4zM1457.4 338.4L1463.6 334.9L1463.6 341.9zM1460.3 336.6L1466.5 333.1L1466.5 340.1zM1463.2 335.1L1469.4 331.6L1469.4 338.6zM1466.1 333.6L1472.4 330.1L1472.4 337.1z" fill="#b98a28"/>
</g>
<rect x="124.7" y="15.3" width="590" height="474.6" fill="none" stroke="#1a1a1a" stroke-width="2.4"/>
<rect x="885.7" y="12.6" width="585.8" height="467.9" fill="none" stroke="#1a1a1a" stroke-width="2.4"/>
<text transform="translate(114.6 74.3) scale(0.925 1)" font-size="34" text-anchor="end">100</text>
<text transform="translate(114.6 169.2) scale(0.925 1)" font-size="34" text-anchor="end">50</text>
<text transform="translate(114.6 264.1) scale(0.925 1)" font-size="34" text-anchor="end">0</text>
<text transform="translate(114.6 359) scale(0.925 1)" font-size="34" text-anchor="end"><tspan font-size="28" dy="-2.5" fill="#3a3a3a">−</tspan><tspan dy="2.5" dx="0.2">50</tspan></text>
<text transform="translate(114.6 453.9) scale(0.925 1)" font-size="34" text-anchor="end"><tspan font-size="28" dy="-2.5" fill="#3a3a3a">−</tspan><tspan dy="2.5" dx="0.2">100</tspan></text>
<text transform="translate(125.2 524.9) scale(0.925 1)" font-size="34" text-anchor="middle">0.12</text>
<text transform="translate(232.5 524.9) scale(0.925 1)" font-size="34" text-anchor="middle">0.16</text>
<text transform="translate(339.8 524.9) scale(0.925 1)" font-size="34" text-anchor="middle">0.20</text>
<text transform="translate(447.2 524.9) scale(0.925 1)" font-size="34" text-anchor="middle">0.24</text>
<text transform="translate(554.5 524.9) scale(0.925 1)" font-size="34" text-anchor="middle">0.28</text>
<text transform="translate(661.8 524.9) scale(0.925 1)" font-size="34" text-anchor="middle">0.32</text>
<text transform="translate(419.7 567.9) scale(0.925 1)" font-size="34" text-anchor="middle">Time/s</text>
<text transform="translate(420.3 611.8)" font-size="32.5" text-anchor="middle">(a)</text>
<text transform="translate(29.6 252.8) rotate(-90) scale(0.915 1)" font-size="34" text-anchor="middle">Pressure/kPa</text>
<text transform="translate(420.2 44.6) scale(0.97 1)" font-size="25.9" text-anchor="middle">Case 5</text>
<text transform="translate(318.8 97.5) scale(0.97 1)" font-size="25.9" text-anchor="start">85.18</text>
<text transform="translate(512.5 140.3) scale(0.97 1)" font-size="25.9" text-anchor="start">53.60</text>
<text transform="translate(488.6 473.6) scale(0.955 1)" font-size="25.9" text-anchor="start"><tspan font-size="22" dy="-2.4" fill="#3a3a3a">−</tspan><tspan dy="2.4" dx="1.2">106.50</tspan></text>
<path d="M147.7 302.5H197.4" stroke="#656565" stroke-width="2.6"/>
<path d="M169.7 299.7h5.7v5.7h-5.7z" fill="#656565"/>
<text transform="translate(203 309) scale(0.986 1)" font-size="25.9" text-anchor="start">Panel 1<tspan font-weight="300" font-size="24.6" dy="1.3">外侧</tspan><tspan dy="-1.3">5 m</tspan></text>
<path d="M147.7 330.1H197.4" stroke="#e0384d" stroke-width="2.6"/>
<path d="M169.4 330.1a3.2 3.2 0 1 0 6.4 0a3.2 3.2 0 1 0 -6.4 0z" fill="#e0384d"/>
<text transform="translate(203 336.5) scale(0.986 1)" font-size="25.9" text-anchor="start">Panel 1<tspan font-weight="300" font-size="24.6" dy="1.3">外侧</tspan><tspan dy="-1.3">10 m</tspan></text>
<path d="M147.7 357.6H197.4" stroke="#3b66ba" stroke-width="2.6"/>
<path d="M172.6 353.3L176.2 359.9L168.9 359.9z" fill="#3b66ba"/>
<text transform="translate(203 364) scale(0.986 1)" font-size="25.9" text-anchor="start">Panel 1<tspan font-weight="300" font-size="24.6" dy="1.3">外侧</tspan><tspan dy="-1.3">15 m</tspan></text>
<path d="M147.7 385.2H197.4" stroke="#40a767" stroke-width="2.6"/>
<path d="M172.6 389.5L176.2 382.9L168.9 382.9z" fill="#40a767"/>
<text transform="translate(203 391.5) scale(0.986 1)" font-size="25.9" text-anchor="start">Panel 2<tspan font-weight="300" font-size="24.6" dy="1.3">外侧</tspan><tspan dy="-1.3">5 m</tspan></text>
<path d="M147.7 412.6H197.4" stroke="#9a6bc6" stroke-width="2.6"/>
<path d="M172.6 408.2L176.3 412.6L172.6 417L168.8 412.6z" fill="#9a6bc6"/>
<text transform="translate(203 419) scale(0.986 1)" font-size="25.9" text-anchor="start">Panel 2<tspan font-weight="300" font-size="24.6" dy="1.3">外侧</tspan><tspan dy="-1.3">10 m</tspan></text>
<path d="M147.7 440.2H197.4" stroke="#b98a28" stroke-width="2.6"/>
<path d="M168.3 440.2L174.9 436.5L174.9 443.9z" fill="#b98a28"/>
<text transform="translate(203 446.5) scale(0.986 1)" font-size="25.9" text-anchor="start">Panel 2<tspan font-weight="300" font-size="24.6" dy="1.3">外侧</tspan><tspan dy="-1.3">15 m</tspan></text>
<text transform="translate(876.4 49) scale(0.925 1)" font-size="34" text-anchor="end">120</text>
<text transform="translate(876.4 98.3) scale(0.925 1)" font-size="34" text-anchor="end">100</text>
<text transform="translate(876.4 147.5) scale(0.925 1)" font-size="34" text-anchor="end">80</text>
<text transform="translate(876.4 196.8) scale(0.925 1)" font-size="34" text-anchor="end">60</text>
<text transform="translate(876.4 246) scale(0.925 1)" font-size="34" text-anchor="end">40</text>
<text transform="translate(876.4 295.3) scale(0.925 1)" font-size="34" text-anchor="end">20</text>
<text transform="translate(876.4 344.5) scale(0.925 1)" font-size="34" text-anchor="end">0</text>
<text transform="translate(876.4 393.8) scale(0.925 1)" font-size="34" text-anchor="end"><tspan font-size="28" dy="-2.5" fill="#3a3a3a">−</tspan><tspan dy="2.5" dx="0.2">20</tspan></text>
<text transform="translate(876.4 443) scale(0.925 1)" font-size="34" text-anchor="end"><tspan font-size="28" dy="-2.5" fill="#3a3a3a">−</tspan><tspan dy="2.5" dx="0.2">40</tspan></text>
<text transform="translate(876.4 492.3) scale(0.925 1)" font-size="34" text-anchor="end"><tspan font-size="28" dy="-2.5" fill="#3a3a3a">−</tspan><tspan dy="2.5" dx="0.2">60</tspan></text>
<text transform="translate(885.5 516.2) scale(0.925 1)" font-size="34" text-anchor="middle">0.16</text>
<text transform="translate(1002.7 516.2) scale(0.925 1)" font-size="34" text-anchor="middle">0.18</text>
<text transform="translate(1119.8 516.2) scale(0.925 1)" font-size="34" text-anchor="middle">0.20</text>
<text transform="translate(1237 516.2) scale(0.925 1)" font-size="34" text-anchor="middle">0.22</text>
<text transform="translate(1354.1 516.2) scale(0.925 1)" font-size="34" text-anchor="middle">0.24</text>
<text transform="translate(1471.3 516.2) scale(0.925 1)" font-size="34" text-anchor="middle">0.26</text>
<text transform="translate(1178.8 561.9) scale(0.925 1)" font-size="34" text-anchor="middle">Time/s</text>
<text transform="translate(1178.6 605.6)" font-size="32.5" text-anchor="middle">(b)</text>
<text transform="translate(805 246.8) rotate(-90) scale(0.915 1)" font-size="34" text-anchor="middle">Pressure/kPa</text>
<text transform="translate(1179.2 38.5) scale(0.97 1)" font-size="25.9" text-anchor="middle">Case 9</text>
<text transform="translate(1165 215.6) scale(0.97 1)" font-size="25.9" text-anchor="start">42.63</text>
<text transform="translate(1199 97.3) scale(0.97 1)" font-size="25.9" text-anchor="start" fill="#40a767">110.72</text>
<path d="M1268 89.6L1303 67.2" stroke="#40a767" stroke-width="2.2" fill="none"/>
<path d="M1312 61.6L1302.6 72.6L1297.6 64.6z" fill="#40a767"/>
<path d="M908.1 154.1H957.9" stroke="#656565" stroke-width="2.0"/>
<path d="M930.2 151.3h5.5v5.5h-5.5z" fill="#656565"/>
<text transform="translate(963 160.4) scale(0.986 1)" font-size="25.9" text-anchor="start">Pane 1<tspan font-weight="300" font-size="24.6" dy="1.3">外侧</tspan><tspan dy="-1.3">5 m</tspan></text>
<path d="M908.1 181.4H957.9" stroke="#e0384d" stroke-width="2.0"/>
<path d="M929.9 181.4a3.1 3.1 0 1 0 6.2 0a3.1 3.1 0 1 0 -6.2 0z" fill="#e0384d"/>
<text transform="translate(963 187.6) scale(0.986 1)" font-size="25.9" text-anchor="start">Panel 1<tspan font-weight="300" font-size="24.6" dy="1.3">外侧</tspan><tspan dy="-1.3">10 m</tspan></text>
<path d="M908.1 208.5H957.9" stroke="#3b66ba" stroke-width="2.0"/>
<path d="M933 204.4L936.6 210.8L929.4 210.8z" fill="#3b66ba"/>
<text transform="translate(963 214.8) scale(0.986 1)" font-size="25.9" text-anchor="start">Panel 1<tspan font-weight="300" font-size="24.6" dy="1.3">外侧</tspan><tspan dy="-1.3">15 m</tspan></text>
<path d="M908.1 235.7H957.9" stroke="#40a767" stroke-width="2.0"/>
<path d="M933 239.8L936.6 233.4L929.4 233.4z" fill="#40a767"/>
<text transform="translate(963 242) scale(0.986 1)" font-size="25.9" text-anchor="start">Panel 3<tspan font-weight="300" font-size="24.6" dy="1.3">外侧</tspan><tspan dy="-1.3">5 m</tspan></text>
<path d="M908.1 262.8H957.9" stroke="#9a6bc6" stroke-width="2.0"/>
<path d="M933 258.6L936.6 262.8L933 267L929.4 262.8z" fill="#9a6bc6"/>
<text transform="translate(963 269.2) scale(0.986 1)" font-size="25.9" text-anchor="start">Panel 3<tspan font-weight="300" font-size="24.6" dy="1.3">外侧</tspan><tspan dy="-1.3">10 m</tspan></text>
<path d="M908.1 290H957.9" stroke="#b98a28" stroke-width="2.0"/>
<path d="M928.9 290L935.3 286.4L935.3 293.6z" fill="#b98a28"/>
<text transform="translate(963 296.4) scale(0.986 1)" font-size="25.9" text-anchor="start">Panel 3<tspan font-weight="300" font-size="24.6" dy="1.3">外侧</tspan><tspan dy="-1.3">15 m</tspan></text>
</svg>
</body></html>
